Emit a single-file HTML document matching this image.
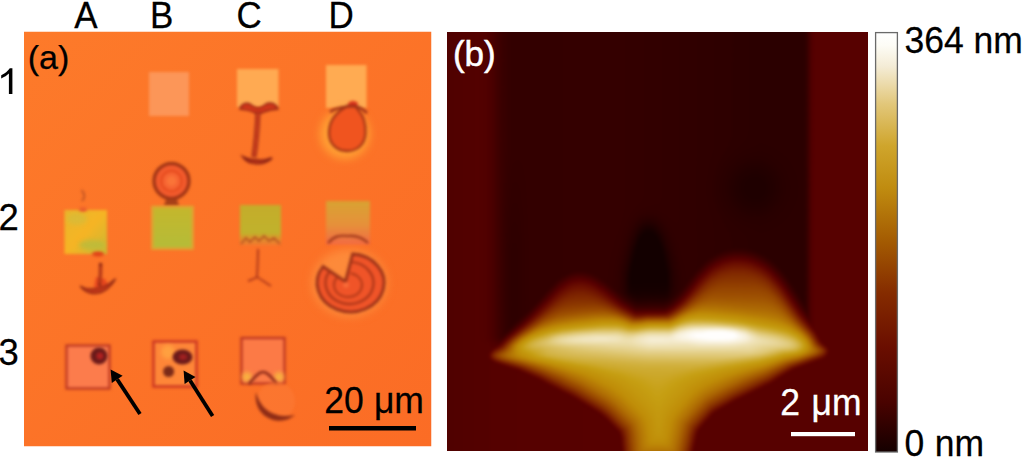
<!DOCTYPE html>
<html><head><meta charset="utf-8">
<style>
html,body{margin:0;padding:0;background:#fff;width:1024px;height:458px;overflow:hidden;}
svg{position:absolute;left:0;top:0;}
text{font-family:"Liberation Sans",sans-serif;}
</style></head>
<body>
<svg width="1024" height="458" viewBox="0 0 1024 458">
<defs>
  <filter id="bb" color-interpolation-filters="sRGB" x="-5%" y="-5%" width="110%" height="110%"><feGaussianBlur stdDeviation="1.8"/></filter>
  <filter id="b15" color-interpolation-filters="sRGB" x="-50%" y="-50%" width="200%" height="200%"><feGaussianBlur stdDeviation="1.8"/></filter>
  <filter id="b06" color-interpolation-filters="sRGB" x="-50%" y="-50%" width="200%" height="200%"><feGaussianBlur stdDeviation="0.6"/></filter>
  <filter id="b1" color-interpolation-filters="sRGB" x="-50%" y="-50%" width="200%" height="200%"><feGaussianBlur stdDeviation="1.2"/></filter>
  <filter id="b2" color-interpolation-filters="sRGB" x="-50%" y="-50%" width="200%" height="200%"><feGaussianBlur stdDeviation="2"/></filter>
  <filter id="b3" color-interpolation-filters="sRGB" x="-50%" y="-50%" width="200%" height="200%"><feGaussianBlur stdDeviation="3"/></filter>
  <filter id="b4" color-interpolation-filters="sRGB" x="-50%" y="-50%" width="200%" height="200%"><feGaussianBlur stdDeviation="4"/></filter>
  <filter id="b6" color-interpolation-filters="sRGB" x="-50%" y="-50%" width="200%" height="200%"><feGaussianBlur stdDeviation="6"/></filter>
  <filter id="b8" color-interpolation-filters="sRGB" x="-50%" y="-50%" width="200%" height="200%"><feGaussianBlur stdDeviation="8"/></filter>
  <filter id="b12" color-interpolation-filters="sRGB" x="-50%" y="-50%" width="200%" height="200%"><feGaussianBlur stdDeviation="12"/></filter>
  <filter id="b16" color-interpolation-filters="sRGB" x="-50%" y="-50%" width="200%" height="200%"><feGaussianBlur stdDeviation="16"/></filter>
  <clipPath id="ca"><rect x="24" y="31.5" width="407.5" height="415"/></clipPath>
  <clipPath id="cb"><rect x="447" y="32" width="421" height="419"/></clipPath>
  <linearGradient id="cbar" x1="0" y1="0" x2="0" y2="1">
    <stop offset="0" stop-color="#ffffff"/>
    <stop offset="0.03" stop-color="#fdfcf6"/>
    <stop offset="0.08" stop-color="#f4ecd6"/>
    <stop offset="0.17" stop-color="#e2c77a"/>
    <stop offset="0.27" stop-color="#cfa52c"/>
    <stop offset="0.37" stop-color="#c08c10"/>
    <stop offset="0.50" stop-color="#a35a02"/>
    <stop offset="0.62" stop-color="#852c00"/>
    <stop offset="0.75" stop-color="#6a0e00"/>
    <stop offset="0.88" stop-color="#4a0300"/>
    <stop offset="1" stop-color="#150000"/>
  </linearGradient>
  <linearGradient id="lobeL" x1="0" y1="0" x2="0" y2="1">
    <stop offset="0" stop-color="#6a1800" stop-opacity="0"/>
    <stop offset="0.35" stop-color="#8a3a00"/>
    <stop offset="1" stop-color="#c89020"/>
  </linearGradient>
  <linearGradient id="lobeR" x1="0" y1="0" x2="0" y2="1">
    <stop offset="0" stop-color="#7a2800" stop-opacity="0"/>
    <stop offset="0.3" stop-color="#9a4a00"/>
    <stop offset="1" stop-color="#d0a028"/>
  </linearGradient>
  <linearGradient id="stem" x1="0" y1="0" x2="1" y2="0">
    <stop offset="0" stop-color="#9a5000"/>
    <stop offset="0.5" stop-color="#c89a10"/>
    <stop offset="1" stop-color="#9a5000"/>
  </linearGradient>
</defs>
<defs>
  <linearGradient id="orng" x1="24" y1="32" x2="431" y2="447" gradientUnits="userSpaceOnUse">
    <stop offset="0" stop-color="#fd7a2a"/>
    <stop offset="1" stop-color="#fb6c25"/>
  </linearGradient>
  <linearGradient id="gD2" x1="0" y1="0" x2="0" y2="1">
    <stop offset="0" stop-color="#d8a232"/>
    <stop offset="0.55" stop-color="#e6903a"/>
    <stop offset="1" stop-color="#f26a44"/>
  </linearGradient>
  <linearGradient id="gC2" x1="0" y1="0" x2="0" y2="1">
    <stop offset="0" stop-color="#c4ac2a"/>
    <stop offset="0.7" stop-color="#c0b22c"/>
    <stop offset="0.85" stop-color="#e0902c"/>
    <stop offset="1" stop-color="#f07a30"/>
  </linearGradient>
  <linearGradient id="gA2" x1="0" y1="0" x2="1" y2="1">
    <stop offset="0" stop-color="#e8b62c"/>
    <stop offset="0.5" stop-color="#f6b424"/>
    <stop offset="1" stop-color="#c8b834"/>
  </linearGradient>
  <linearGradient id="gB2" x1="0" y1="0" x2="0" y2="1">
    <stop offset="0" stop-color="#c4b62c"/>
    <stop offset="1" stop-color="#b4bc38"/>
  </linearGradient>
</defs>
<g clip-path="url(#ca)">
  <rect x="24" y="31.5" width="407.5" height="415" fill="url(#orng)"/>
  <g filter="url(#b15)">
  <!-- B1 square -->
  <rect x="149" y="72" width="40" height="44" fill="#fc9658"/>
  <!-- C1 square -->
  <rect x="237" y="69" width="41.5" height="38" fill="#ffaa52"/>
  <!-- D1 square -->
  <rect x="326" y="65" width="40.5" height="43" fill="#ffab52"/>
  </g>
  <!-- C1 T shape -->
  <g filter="url(#b15)">
    <path d="M240,109 C241,104 246,102 250,104 C253,106 255,108 258,108 C261,108 263,106 266,104 C270,102 276,103 278,109 C272,110 267,110 262,113 L255,113 C250,110 245,110 240,109 Z" fill="#d0361a" stroke="#8e2414" stroke-width="1.4"/>
    <path d="M258,112 C257.5,125 256.5,140 254,157" stroke="#962818" stroke-width="5" fill="none"/>
    <path d="M258,113 C257.5,125 256.5,140 254.3,156" stroke="#e4481e" stroke-width="1.8" fill="none"/>
    <path d="M243,157 C248,165 264,166 272,158 C267,160 262,161 257,160 C251,160 247,159 243,157 Z" fill="#d0381a" stroke="#8e2414" stroke-width="2"/>
  </g>
  <!-- D1 pear -->
  <circle cx="345" cy="134" r="25" fill="#ffa034" filter="url(#b4)"/>
  <g filter="url(#b15)">
    <path d="M344,108 C349,104 356,104 358,110 C362,114 366,122 365.5,133 C365,145 357,151 347,151 C337,151 329,144 329,133 C329,121 336,113 344,108 Z" fill="#f0541f" stroke="#a43416" stroke-width="2.3"/>
    <ellipse cx="353" cy="104" rx="5" ry="3" fill="#d8301a"/>
    <path d="M330,112 C336,107 345,107 352,106 C358,106 363,109 367,113" stroke="#9a3018" stroke-width="2.6" fill="none"/>
  </g>
  <!-- B circle -->
  <g filter="url(#b15)">
    <circle cx="171.5" cy="181" r="17.5" fill="#f25a2c" stroke="#983014" stroke-width="3"/>
    <circle cx="171.5" cy="181" r="10" fill="#f66432" stroke="#e04418" stroke-width="1.5"/>
    <circle cx="171.5" cy="181" r="5" fill="#fa7438"/>
    <path d="M166,199 L177,199 L179,206 L164,206 Z" fill="#a84018"/>
  </g>
  <!-- Row 2 squares -->
  <g filter="url(#b15)">
    <rect x="64.5" y="210" width="42.5" height="44" fill="url(#gA2)"/>
    <rect x="152.5" y="207" width="40" height="41.5" fill="url(#gB2)" stroke="#dca832" stroke-width="2.5"/>
    <rect x="240" y="205" width="41" height="40" fill="url(#gC2)"/>
    <rect x="326" y="201" width="44" height="43.5" fill="url(#gD2)"/>
  </g>
  <g filter="url(#b2)">
    <ellipse cx="92" cy="245" rx="13" ry="5" fill="#b8bc3c" opacity="0.8"/>
    <ellipse cx="77" cy="219" rx="10" ry="6" fill="#d4bc3a" opacity="0.7"/>
  </g>
  <!-- A2 hook and sail -->
  <g filter="url(#b15)">
    <path d="M81.5,190 C85,194 85,198 82,201" stroke="#b04a22" stroke-width="1.4" fill="none"/>
    <ellipse cx="98" cy="254" rx="6" ry="2.5" fill="#e04018"/>
    <ellipse cx="83" cy="209.5" rx="4" ry="2" fill="#e8582c"/>
    <path d="M96,277 L105,279 L108,284 L100,291 L94,287 Z" fill="#e8481e"/>
    <path d="M80.2,286 C88,296 104,298 115.6,278.8 C108,286 100,289 92,289 C87,289 83,288 80.2,286 Z" fill="#c83a1a" stroke="#8a2412" stroke-width="1.4"/>
    <path d="M100.6,263 C100.8,270 100.5,277 99.5,286" stroke="#8a2412" stroke-width="3.2" fill="none"/>
    <path d="M100.6,266 C100.8,272 100.5,278 99.8,284" stroke="#e04a1e" stroke-width="1.2" fill="none"/>
  </g>
  <!-- C2 jagged + three-prong -->
  <g filter="url(#b15)">
    <path d="M241,244 L246,238 L250,242 L255,237 L259,241 L264,236 L269,241 L274,238 L280,244" stroke="#a83c1c" stroke-width="1.6" fill="none" opacity="0.8"/>
    <path d="M258,249 C258,258 257.5,268 257,277 M257,277 C254,279 251,280 248,281 M257,277 C262,280 266,283 271,286" stroke="#b0381a" stroke-width="2" fill="none"/>
  </g>
  <!-- D2 bottom curve -->
  <g filter="url(#b15)">
    <path d="M328,243 C333,237 338,235 348,236 C356,235 362,237 368,243" stroke="#9a3418" stroke-width="2.2" fill="none"/>
  </g>
  <!-- D2 spiral -->
  <ellipse cx="349.5" cy="283" rx="38" ry="34" fill="#fd8a3a" filter="url(#b4)"/>
  <g filter="url(#b15)">
    <path d="M345.5,281.7 L323,266.5 A33.5,29 0 1,0 352.6,254 Z" fill="#f05428" stroke="#983018" stroke-width="2.8"/>
    <path d="M329.8,271 A24,21 0 1,0 350.3,262" stroke="#a83418" stroke-width="2.2" fill="none"/>
    <path d="M337.3,277.3 A14,12 0 1,0 350.4,273.2" stroke="#b03818" stroke-width="2" fill="none"/>
    <circle cx="346" cy="285" r="3" fill="#f86a38"/>
  </g>
  <!-- Row 3 -->
  <g filter="url(#b15)">
    <rect x="66.5" y="345.5" width="43" height="43" fill="#fc7c4c" stroke="#b83422" stroke-width="2.2"/>
    <rect x="153.5" y="341.5" width="43" height="45" fill="#fe8638" stroke="#c83422" stroke-width="2.4"/>
    <rect x="241.5" y="338" width="43" height="45.5" fill="#fc7a46" stroke="#b83422" stroke-width="2.2"/>
  </g>
  <g filter="url(#b2)">
    <ellipse cx="247" cy="377" rx="5" ry="5" fill="#f8b040"/>
    <ellipse cx="279" cy="377" rx="5" ry="5" fill="#f8b040"/>
    <circle cx="168" cy="352" r="7" fill="#ffa040"/>
  </g>
  <g filter="url(#b15)">
    <circle cx="99" cy="356" r="8.5" fill="#6a1a1a"/>
    <circle cx="100" cy="356" r="3.5" fill="#b02020"/>
    <ellipse cx="182.5" cy="357" rx="10" ry="7.5" fill="#6a1a1a"/>
    <ellipse cx="183" cy="357" rx="4" ry="3" fill="#a02020"/>
    <circle cx="168.6" cy="371.5" r="5.5" fill="#7a2a18"/>
    <path d="M249,384 C254,378 258,372 263,372 C268,372 272,378 277,384" stroke="#8a2818" stroke-width="2.5" fill="none"/>
    <circle cx="276" cy="401" r="19" fill="#fc7a36" opacity="0.6"/>
    <path d="M256,392 C254,405 261,418 276,420.5 C284,421.5 290,419 295,415 C288,416.5 282,416.5 276,414.5 C266,411.5 259,404 256,392 Z" fill="#8e2c16"/>
  </g>
  <!-- arrows -->
  <g fill="#000" stroke="none">
    <path d="M140,414 L117.2,379.4" stroke="#000" stroke-width="3.8"/>
    <path d="M110.6,369.4 L122.6,375.8 L111.8,383.0 Z"/>
    <path d="M212.6,416 L190.05,380.6" stroke="#000" stroke-width="3.8"/>
    <path d="M183.6,370.5 L195.5,377.1 L184.6,384.1 Z"/>
  </g>
</g>
<g clip-path="url(#cb)"><g filter="url(#bb)">
<rect x="439" y="24" width="437" height="435" fill="#130000"/>
<path fill="#140000" fill-rule="evenodd" d="M441.2 26.2 441.2 456.8 873.8 456.8 873.8 26.2ZM647.2 232.2 650.2 232.2 652.2 233.2 656.2 237.8 659.2 243.8 661.8 251.2 666.2 273.2 666.2 281.8 665.2 282.8 644.2 282.8 640.8 283.8 631.8 283.8 630.8 277.2 632.8 264.8 636.8 248.8 641.2 237.8 645.2 233.2Z"/>
<path fill="#160000" fill-rule="evenodd" d="M441.2 26.2 441.2 456.8 873.8 456.8 873.8 26.2ZM647.8 231.2 650.8 231.8 654.8 234.8 657.8 239.2 660.8 246.2 663.8 256.8 666.8 272.8 667.2 281.8 666.8 286.2 665.8 287.2 641.8 287.8 636.8 288.8 634.2 288.2 630.8 285.8 630.2 277.2 631.2 269.8 636.2 248.8 639.2 240.2 641.8 235.8 645.2 232.2Z"/>
<path fill="#170000" fill-rule="evenodd" d="M441.2 26.2 441.2 456.8 873.8 456.8 873.8 26.2ZM646.8 230.8 651.8 231.2 655.8 234.8 661.8 247.8 665.8 263.8 667.8 277.8 667.8 283.2 666.2 289.8 644.8 290.2 636.8 291.2 634.2 290.8 630.2 287.8 630.2 273.2 636.2 246.8 640.8 236.2 644.8 231.8Z"/>
<path fill="#190000" fill-rule="evenodd" d="M441.2 26.2 441.2 456.8 873.8 456.8 873.8 26.2ZM647.2 229.8 650.2 229.8 653.2 231.2 655.8 233.8 659.8 240.8 662.8 249.2 667.8 272.8 667.8 287.8 666.2 291.8 635.2 292.8 630.8 290.2 629.8 288.2 629.2 277.8 630.2 270.2 636.2 245.2 641.2 234.2 644.8 230.8Z"/>
<path fill="#1a0000" fill-rule="evenodd" d="M441.2 26.2 441.2 456.8 873.8 456.8 873.8 26.2ZM645.8 229.2 651.2 229.2 655.8 232.8 658.8 237.2 662.8 247.2 665.8 258.8 668.8 277.2 668.2 287.2 666.2 293.2 635.8 294.2 631.8 292.2 629.8 290.2 628.8 283.2 629.2 273.2 632.2 258.2 633.2 256.2 633.2 253.8 637.2 240.8 640.2 234.8Z"/>
<path fill="#1c0000" fill-rule="evenodd" d="M441.2 26.2 441.2 456.8 873.8 456.8 873.8 26.2ZM646.2 228.2 650.8 228.2 655.8 231.8 660.8 240.2 663.8 248.8 667.8 265.8 669.2 278.2 668.8 288.2 667.2 293.2 665.2 294.8 646.8 294.8 636.8 295.8 632.2 293.8 629.2 290.8 628.2 278.2 629.2 270.2 633.2 251.8 639.2 235.2 641.2 232.2Z"/>
<path fill="#1d0000" fill-rule="evenodd" d="M441.2 26.2 441.2 456.8 873.8 456.8 873.8 26.2ZM646.8 227.2 651.8 227.8 656.8 231.8 660.8 238.8 665.8 253.8 669.2 272.2 669.8 285.2 667.8 293.8 665.2 295.8 649.2 295.8 636.8 296.8 633.2 295.2 629.2 292.2 627.8 283.2 628.2 273.2 632.2 253.8 638.2 235.8 640.8 231.8 643.8 228.8Z"/>
<path fill="#1f0000" fill-rule="evenodd" d="M441.2 26.2 441.2 456.8 873.8 456.8 873.8 26.2ZM647.8 226.2 649.8 226.2 654.2 228.2 658.8 233.8 662.8 242.2 666.8 255.8 669.8 271.2 670.2 284.8 668.2 294.2 667.2 295.8 665.2 296.8 647.2 296.8 637.2 297.8 629.8 293.8 628.2 291.2 627.2 284.8 627.8 273.8 631.2 255.8 634.2 244.8 639.2 232.8 643.2 228.2Z"/>
<path fill="#200000" fill-rule="evenodd" d="M441.2 26.2 441.2 456.8 873.8 456.8 873.8 26.2ZM646.8 225.8 650.8 225.8 653.2 226.8 658.2 231.8 660.8 235.8 663.8 243.2 666.8 253.2 670.8 274.8 670.8 286.2 668.2 295.8 664.2 297.8 636.8 298.2 634.8 297.8 630.2 294.8 628.2 292.8 627.2 288.8 627.2 273.2 630.2 257.8 634.2 242.8 637.2 235.2 640.2 230.2 642.8 227.8ZM754.2 177.2 756.8 177.2 761.2 179.2 763.8 182.8 764.8 185.8 764.8 190.8 762.8 195.2 760.2 197.8 757.8 198.8 753.2 198.8 749.8 197.2 746.2 193.8 744.8 189.8 744.8 186.8 746.8 181.8 750.2 178.8Z"/>
<path fill="#220000" fill-rule="evenodd" d="M441.2 26.2 441.2 456.8 873.8 456.8 873.8 26.2ZM645.2 225.2 652.2 225.2 657.8 229.8 662.8 238.8 666.8 250.8 670.8 269.8 671.2 286.8 668.8 296.2 664.8 298.2 637.8 299.2 632.8 297.2 627.8 293.2 626.2 285.2 626.2 277.2 629.2 259.8 632.2 247.8 637.2 233.8 640.2 229.2ZM751.2 173.2 756.8 172.8 760.8 173.8 765.8 178.2 768.8 184.8 768.8 191.2 767.8 194.2 764.8 199.2 760.2 202.8 752.8 203.2 748.2 201.8 743.2 197.2 740.2 191.2 740.2 185.2 742.2 180.2 745.8 176.2Z"/>
<path fill="#230000" fill-rule="evenodd" d="M441.2 26.2 441.2 456.8 873.8 456.8 873.8 26.2ZM645.8 224.2 651.8 224.2 657.8 228.8 662.8 237.2 667.8 252.2 671.8 272.8 672.2 281.8 671.8 288.2 669.8 295.8 665.8 298.8 636.8 299.8 629.8 295.8 627.2 293.2 625.8 284.8 625.8 277.8 627.2 266.8 631.2 249.2 635.2 236.8 638.2 230.8 642.2 226.2ZM752.8 169.2 758.2 169.2 763.2 171.2 768.8 176.8 771.8 183.2 772.2 190.2 771.8 193.2 769.2 198.8 764.2 204.2 759.8 206.8 751.8 206.8 744.8 203.8 739.2 197.8 736.8 190.8 737.2 182.8 739.8 177.8 743.8 173.2 746.8 171.2Z"/>
<path fill="#250000" fill-rule="evenodd" d="M441.2 26.2 441.2 456.8 873.8 456.8 873.8 26.2ZM645.8 223.2 651.2 223.2 653.8 224.2 658.8 228.8 663.8 237.8 669.8 257.8 672.8 275.8 672.8 285.8 670.2 296.2 667.2 298.8 664.2 299.8 636.8 300.2 630.2 296.8 627.2 294.2 626.2 292.2 625.2 286.2 625.2 276.2 630.2 250.8 634.2 237.8 637.2 231.2 642.2 225.2ZM751.8 166.2 760.2 166.2 765.8 169.2 770.8 174.2 774.8 182.2 775.2 191.2 772.2 199.8 767.2 205.8 760.8 209.8 750.8 209.8 743.8 206.8 737.2 200.2 734.2 193.8 733.8 185.8 736.2 177.8 742.8 170.2 748.2 167.2Z"/>
<path fill="#260000" fill-rule="evenodd" d="M441.2 26.2 441.2 456.8 873.8 456.8 873.8 26.2ZM646.2 222.2 651.2 222.2 653.8 223.2 659.8 228.8 662.8 233.8 665.8 241.2 669.8 254.8 673.2 274.2 673.2 286.8 670.8 296.2 668.2 298.8 664.2 300.2 636.2 300.8 628.2 295.8 626.2 293.8 625.2 290.2 625.2 271.8 632.2 241.8 637.2 229.8 642.2 224.2ZM751.8 163.2 760.8 163.2 765.2 165.2 769.2 168.2 774.8 174.8 776.8 178.8 778.2 184.8 777.8 194.2 774.2 202.2 766.2 210.2 759.2 213.2 750.8 212.8 747.2 211.8 741.8 208.8 735.2 202.2 731.2 192.8 731.2 183.2 732.2 179.8 736.2 172.8 743.8 166.2Z"/>
<path fill="#280000" fill-rule="evenodd" d="M441.2 26.2 441.2 456.8 873.8 456.8 873.8 26.2ZM646.8 221.2 650.8 221.2 653.8 222.2 657.2 224.8 660.8 228.8 666.8 241.8 670.8 255.8 674.2 277.2 673.8 289.2 671.8 296.2 667.2 299.8 664.8 300.8 647.2 300.8 638.2 301.8 633.2 299.8 628.8 296.8 625.2 293.2 624.2 288.2 624.2 274.8 627.2 258.2 631.2 242.8 634.2 234.2 638.2 227.2 642.2 223.2ZM751.2 160.2 761.8 160.2 769.2 164.2 774.2 168.8 777.2 172.8 780.8 180.8 781.2 192.8 777.8 202.8 770.2 211.2 766.8 213.8 760.8 216.2 750.2 215.8 744.8 213.8 739.8 210.8 732.8 203.2 728.8 193.2 728.2 186.2 729.2 180.8 733.2 172.2 738.8 166.2 745.2 162.2Z"/>
<path fill="#290000" fill-rule="evenodd" d="M441.2 26.2 441.2 456.8 873.8 456.8 873.8 26.2ZM646.8 220.2 650.8 220.2 656.2 222.8 661.8 228.8 667.8 242.2 672.8 261.2 674.8 272.8 674.8 288.2 672.8 295.8 668.2 299.8 664.2 301.2 639.8 302.2 636.2 301.8 630.8 298.8 625.8 294.8 624.2 291.8 623.2 284.2 623.8 274.2 625.2 264.8 630.2 243.8 634.2 232.8 637.2 227.2 640.8 223.2ZM755.8 156.2 761.2 156.2 768.2 159.2 773.8 163.2 780.8 171.8 782.8 175.8 784.8 182.8 784.8 193.8 783.2 199.2 779.8 206.2 772.2 214.2 766.8 217.8 761.8 219.8 753.8 219.8 749.2 218.8 742.2 215.8 737.8 212.8 730.2 204.2 727.2 197.8 725.8 190.2 726.2 181.8 729.2 173.8 734.2 166.8 738.8 162.8 744.8 159.2Z"/>
<path fill="#2a0000" fill-rule="evenodd" d="M441.2 26.2 441.2 456.8 873.8 456.8 873.8 26.2ZM646.8 219.2 650.8 219.2 655.8 221.2 660.8 225.8 662.8 228.8 667.8 239.8 673.8 261.8 675.8 273.8 675.8 287.2 674.8 292.8 673.8 295.2 670.2 298.8 664.8 301.8 646.8 301.8 641.2 302.8 636.8 302.2 633.2 300.8 624.2 293.8 623.2 290.2 623.2 272.2 629.2 244.8 634.2 230.8 637.2 225.8 640.8 222.2ZM758.2 151.8 763.2 152.2 770.2 155.2 779.8 162.8 784.2 168.8 786.8 173.8 788.8 179.8 789.8 186.2 789.2 193.8 787.8 200.2 781.8 211.2 775.2 217.8 770.8 220.8 760.8 224.8 749.8 222.8 742.8 219.8 736.8 215.8 730.2 209.2 725.2 200.2 723.2 192.8 723.2 183.8 724.2 178.8 728.2 169.8 731.2 165.8 738.2 159.2 743.2 156.2 750.8 153.2Z"/>
<path fill="#2b0000" fill-rule="evenodd" d="M441.2 26.2 441.2 456.8 873.8 456.8 873.8 26.2ZM646.8 218.2 651.2 218.2 656.2 220.2 662.8 226.8 667.8 236.8 671.8 248.8 674.8 261.8 676.8 273.8 676.8 287.8 675.8 293.2 670.8 298.8 666.2 301.8 664.2 302.2 636.8 302.8 631.8 300.2 623.2 293.2 622.2 288.2 622.2 274.8 624.2 262.8 629.2 242.2 633.2 231.2 636.2 225.8 641.8 220.2ZM760.8 143.2 774.2 148.2 781.2 153.2 787.8 159.8 791.8 165.8 795.8 174.8 797.8 186.8 797.2 194.2 795.8 201.2 792.8 208.8 788.8 215.2 782.8 221.8 776.2 226.8 770.8 229.8 761.8 232.8 760.2 232.8 757.2 230.8 743.2 224.8 734.8 218.8 729.2 213.2 725.2 207.2 722.2 200.8 720.2 191.8 720.2 184.2 723.2 172.8 725.2 168.8 731.2 160.8 736.2 156.2 743.8 151.2 757.8 145.2Z"/>
<path fill="#2c0000" fill-rule="evenodd" d="M441.2 26.2 441.2 456.8 873.8 456.8 873.8 26.2 803.2 26.2 803.8 298.8 802.8 299.8 786.2 274.2 775.2 262.2 763.8 254.2 754.2 249.8 752.2 249.8 751.2 248.8 748.8 248.2 749.8 247.2 749.8 245.8 747.2 237.8 745.2 234.8 726.2 215.8 720.2 205.2 717.2 194.2 717.2 181.8 718.2 176.8 722.2 166.8 729.2 156.8 746.2 140.2 749.2 133.8 750.2 125.8 750.2 26.2ZM646.2 217.2 652.2 217.2 658.2 220.2 663.2 225.8 666.8 231.8 670.8 241.8 675.8 260.8 678.2 278.2 677.2 291.2 675.8 294.2 671.2 298.8 664.2 302.8 637.2 303.2 631.8 300.8 625.2 295.8 622.2 292.2 621.2 286.2 621.2 276.8 623.2 263.8 629.2 239.8 632.2 231.2 636.2 224.2 640.8 219.8Z"/>
<path fill="#2e0000" fill-rule="evenodd" d="M441.2 26.2 441.2 456.8 873.8 456.8 873.8 26.2 804.2 26.2 804.8 300.8 803.8 301.8 793.8 285.8 783.8 271.8 775.2 262.8 770.2 258.8 759.8 252.8 750.2 249.2 742.8 247.8 730.2 247.2 732.2 246.2 732.2 241.2 730.2 233.8 718.2 212.2 714.2 200.8 713.2 195.2 713.2 180.8 715.2 171.8 721.2 158.2 729.2 144.8 732.2 135.2 732.8 26.2ZM647.8 215.8 653.2 216.2 659.2 219.2 662.8 222.8 666.8 228.8 673.8 246.8 678.8 269.2 679.8 277.2 679.8 284.8 678.8 291.2 669.2 300.8 663.2 303.2 637.2 303.8 629.8 299.8 621.2 292.2 620.2 283.2 621.2 270.2 624.2 255.2 630.2 233.8 635.2 223.8 641.8 217.8Z"/>
<path fill="#2f0000" fill-rule="evenodd" d="M441.2 26.2 441.2 456.8 873.8 456.8 873.8 26.2 804.8 26.2 804.8 303.8 803.8 303.2 795.2 288.8 784.2 272.8 774.8 262.8 763.2 254.8 750.8 249.8 743.2 248.2 731.2 248.2 715.8 252.8 715.2 253.8 713.8 253.2 715.2 251.8 714.8 231.2 713.2 221.8 708.2 202.2 707.2 195.2 707.2 180.8 709.2 168.8 714.2 149.2 715.2 139.2 715.2 26.2ZM514.8 242.2 516.8 247.8 516.8 318.2 517.8 319.2 511.8 324.8 511.8 248.8 513.2 242.8ZM647.8 214.2 653.8 214.8 659.2 217.2 664.8 222.8 667.8 227.2 674.8 244.2 680.8 269.2 681.8 276.8 681.8 287.2 680.8 289.2 672.2 298.8 668.2 301.8 662.8 303.8 636.2 303.8 629.2 299.8 624.2 295.8 620.2 291.2 620.2 270.8 624.2 251.2 629.2 233.8 632.2 226.8 636.2 220.8 641.8 216.2Z"/>
<path fill="#300000" fill-rule="evenodd" d="M441.2 26.2 441.2 456.8 873.8 456.8 873.8 26.2 805.2 26.2 805.8 303.2 804.8 304.8 791.8 283.8 782.2 270.8 773.2 261.8 769.2 258.8 755.8 251.8 744.8 248.8 739.2 248.2 726.2 249.8 712.8 255.2 705.8 259.8 696.8 268.2 696.2 267.8 698.2 265.2 696.8 201.2 696.8 174.8 697.8 152.2 697.8 26.2ZM685.2 281.2 686.2 280.2 686.8 280.8 686.2 281.8ZM514.8 222.2 516.8 225.8 517.8 230.8 519.8 249.8 519.8 317.2 510.2 326.8 509.8 249.2 512.2 226.2 513.2 223.2ZM646.8 212.8 653.2 212.8 658.2 214.2 661.2 216.2 668.2 223.8 671.8 229.8 677.8 244.2 684.8 270.8 685.8 282.8 679.8 291.2 670.2 300.8 664.8 303.8 648.2 303.8 641.8 304.8 636.8 304.2 633.2 302.8 623.8 295.8 619.2 291.2 618.2 278.8 619.2 270.2 622.2 255.2 623.2 253.2 623.2 250.8 628.2 233.2 632.2 224.2 636.2 218.8 642.2 214.2Z"/>
<path fill="#310000" fill-rule="evenodd" d="M441.2 26.2 441.2 456.8 873.8 456.8 873.8 26.2 805.8 26.2 805.2 305.8 787.2 277.8 781.8 270.8 773.8 262.8 766.2 257.2 759.8 253.8 751.8 250.8 742.2 248.8 732.8 248.8 723.8 250.8 708.8 258.2 704.8 261.2 695.2 270.8 679.2 292.2 670.8 300.8 665.8 303.8 636.8 304.8 628.2 299.8 617.8 290.2 617.2 275.2 620.2 258.8 626.2 235.2 630.2 224.8 633.2 219.8 641.8 212.2 647.8 210.2 654.8 210.2 658.8 211.2 665.2 214.8 676.2 224.2 677.2 224.2 679.2 221.2 680.2 208.2 680.2 26.2ZM515.2 202.2 516.8 204.2 518.8 212.8 521.8 245.2 521.8 315.8 509.2 328.2 508.2 327.2 508.8 244.2 511.2 212.8 513.2 204.2Z"/>
<path fill="#320000" fill-rule="evenodd" d="M441.2 26.2 441.2 456.8 873.8 456.8 873.8 26.2 806.2 26.2 805.8 306.8 804.8 306.2 786.2 276.8 773.2 262.8 761.2 254.8 753.8 251.8 742.8 249.2 728.8 249.8 720.8 252.2 709.8 257.8 705.8 260.8 695.8 270.8 678.8 293.2 671.2 300.8 665.2 304.2 642.8 305.2 635.8 304.8 622.8 295.8 615.2 288.2 615.8 274.8 618.2 260.2 625.2 232.8 630.2 220.8 635.2 214.2 641.8 209.2 649.2 206.2 656.2 205.2 660.2 203.2 662.2 198.2 662.2 26.2ZM516.2 182.2 517.8 184.2 519.8 190.8 522.8 216.8 524.2 244.8 524.8 313.2 517.2 321.2 508.2 329.2 507.2 328.2 508.2 229.2 511.2 193.2 513.2 184.8 514.8 182.2Z"/>
<path fill="#330000" fill-rule="evenodd" d="M441.2 26.2 441.2 456.8 873.8 456.8 873.8 26.2 806.2 26.2 805.8 307.2 804.8 306.8 787.2 278.8 775.2 264.8 764.2 256.8 758.2 253.8 744.2 249.8 730.8 249.8 726.2 250.8 717.8 253.8 709.8 258.2 703.8 262.8 697.8 268.8 677.8 294.8 672.8 299.8 665.2 304.8 649.8 304.8 638.2 305.8 635.2 304.8 624.8 297.8 612.8 286.2 614.2 268.2 624.2 228.2 629.2 216.8 635.2 208.8 642.2 201.2 644.2 196.2 644.2 26.2ZM518.2 160.2 520.2 162.2 522.8 168.8 525.8 190.8 528.2 243.8 528.8 309.2 507.2 330.8 506.8 244.8 508.2 206.2 510.2 181.2 512.2 168.8 514.2 162.8 516.8 160.2Z"/>
<path fill="#340000" fill-rule="evenodd" d="M441.2 26.2 441.2 456.8 873.8 456.8 873.8 26.2 806.8 26.2 806.2 308.2 804.8 307.2 786.2 277.8 775.2 265.2 771.2 261.8 761.8 255.8 751.8 251.8 741.8 249.8 733.2 249.8 724.2 251.8 718.8 253.8 708.8 259.2 697.8 269.2 677.8 295.2 670.8 301.8 663.8 305.2 636.8 305.8 626.8 299.8 612.8 287.2 607.8 281.8 606.2 281.2 607.8 280.8 608.2 272.8 612.2 253.2 615.2 243.8 615.2 241.8 620.2 228.2 626.2 204.2 626.2 26.2 561.8 26.2 561.8 273.2 563.2 273.2 564.2 272.2 565.2 272.2 565.8 273.2 563.8 274.8 562.2 274.8 560.8 276.8 557.2 278.8 543.8 292.8 530.8 308.2 512.2 326.8 506.2 331.8 506.2 229.2 509.2 169.8 512.2 151.8 512.2 26.2ZM565.8 272.2 566.8 271.2 568.2 272.2ZM567.8 271.2 569.2 270.2 570.8 271.2Z"/>
<path fill="#350000" fill-rule="evenodd" d="M441.2 26.2 441.2 456.8 873.8 456.8 873.8 26.2 806.8 26.2 806.2 309.8 786.2 278.2 780.2 270.8 773.2 263.8 764.8 257.8 753.8 252.8 742.2 250.2 732.8 250.2 720.8 253.2 713.2 256.8 707.2 260.8 696.8 270.8 679.8 293.2 671.2 301.8 666.8 304.8 663.2 305.8 636.2 305.8 625.8 299.2 605.2 280.8 595.2 274.2 587.2 271.2 581.8 270.2 577.8 270.2 569.2 272.2 562.2 275.8 554.8 281.8 528.2 311.2 505.8 332.8 504.8 332.2 505.2 235.8 507.2 175.8 509.2 154.2 509.2 26.2Z"/>
<path fill="#360000" fill-rule="evenodd" d="M441.2 26.2 441.2 456.8 873.8 456.8 873.8 26.2 806.8 26.2 806.8 310.2 805.8 309.8 794.2 290.8 783.2 274.8 770.2 261.8 758.2 254.8 749.2 251.8 744.2 250.8 730.8 250.8 717.8 254.8 709.8 259.2 705.2 262.8 693.8 274.8 679.2 294.2 670.2 302.8 664.8 305.8 646.8 305.8 641.2 306.8 635.2 305.8 624.8 298.8 604.8 280.8 593.2 273.8 582.8 270.8 576.8 270.8 568.8 272.8 563.8 275.2 556.2 280.8 524.8 315.2 505.2 333.2 504.2 332.2 504.2 249.2 506.2 170.2 507.2 160.2 507.2 26.2Z"/>
<path fill="#370000" fill-rule="evenodd" d="M441.2 26.2 441.2 456.8 873.8 456.8 873.8 26.2 807.2 26.2 806.8 310.8 801.2 303.2 785.2 277.8 772.2 263.8 765.2 258.8 754.8 253.8 741.8 250.8 733.2 250.8 723.8 252.8 718.8 254.8 706.8 261.8 695.8 272.8 678.8 295.2 670.8 302.8 665.8 305.8 663.2 306.2 637.2 306.8 626.8 300.8 609.2 284.8 596.8 275.8 591.2 273.2 583.8 271.2 575.8 271.2 569.8 272.8 561.8 276.8 557.8 279.8 547.8 289.8 533.8 306.2 505.2 333.8 503.8 333.2 503.8 243.2 505.2 166.8 506.2 154.2 506.2 26.2Z"/>
<path fill="#380000" fill-rule="evenodd" d="M441.2 26.2 441.2 456.8 873.8 456.8 873.8 26.2 807.2 26.2 807.8 309.2 806.8 310.8 804.2 308.2 785.2 278.2 778.2 269.8 769.2 261.8 761.2 256.8 750.8 252.8 742.8 251.2 732.2 251.2 724.8 252.8 719.2 254.8 713.2 257.8 704.8 263.8 695.8 273.2 680.8 293.2 672.2 301.8 668.2 304.8 664.8 306.2 640.8 307.2 636.8 306.8 627.8 301.8 605.2 281.8 594.2 274.8 585.2 271.8 574.2 271.8 567.8 273.8 561.8 277.2 553.8 283.8 529.2 311.2 504.2 334.8 503.2 334.2 503.2 222.8 504.2 196.2 504.2 166.8 505.2 150.2 505.2 26.2Z"/>
<path fill="#390000" fill-rule="evenodd" d="M441.2 26.2 441.2 456.8 873.8 456.8 873.8 26.2 807.8 26.2 807.2 311.8 805.8 310.8 790.2 285.8 782.2 274.8 770.2 262.8 764.2 258.8 755.8 254.8 744.8 251.8 735.8 251.2 722.8 253.8 713.8 257.8 707.8 261.8 694.8 274.8 679.8 294.8 670.2 303.8 664.2 306.8 635.8 306.8 624.8 299.8 607.2 283.8 601.2 279.2 593.2 274.8 583.2 271.8 575.8 271.8 568.8 273.8 560.8 278.2 554.8 283.2 534.8 305.8 514.2 326.2 503.2 335.8 502.8 214.2 503.8 171.8 503.8 26.2Z"/>
<path fill="#3a0000" fill-rule="evenodd" d="M441.2 26.2 441.2 456.8 873.8 456.8 873.8 26.2 807.8 26.2 807.2 312.8 787.2 281.8 780.2 272.8 772.2 264.8 761.8 257.8 752.2 253.8 742.8 251.8 732.8 251.8 720.8 254.8 714.2 257.8 705.8 263.8 696.8 272.8 678.8 296.2 669.2 304.8 665.2 306.8 650.8 306.8 638.2 307.8 635.2 306.8 623.8 299.2 606.8 283.8 596.8 276.8 590.2 273.8 583.8 272.2 575.2 272.2 569.8 273.8 562.8 277.2 556.8 281.8 548.8 289.8 533.8 307.2 516.2 324.8 503.2 336.2 502.2 335.2 501.8 330.8 502.2 187.2 503.2 155.2 503.2 26.2Z"/>
<path fill="#3b0000" fill-rule="evenodd" d="M441.2 26.2 441.2 456.8 873.8 456.8 873.8 26.2 807.8 26.2 807.8 313.2 806.2 312.2 786.2 280.8 780.2 273.2 771.8 264.8 763.2 258.8 754.2 254.8 746.8 252.8 736.2 251.8 728.2 252.8 721.8 254.8 714.8 257.8 706.8 263.2 699.8 269.8 693.8 276.8 680.8 294.2 672.2 302.8 667.8 305.8 663.8 307.2 635.8 307.2 625.2 300.8 606.2 283.8 594.2 275.8 589.2 273.8 581.2 272.2 573.8 272.8 567.8 274.8 557.2 281.8 548.8 290.2 528.8 312.8 513.2 327.8 502.8 336.8 501.8 336.2 501.2 333.8 502.2 26.2Z"/>
<path fill="#3c0000" fill-rule="evenodd" d="M441.2 26.2 441.2 456.8 873.8 456.8 873.8 26.2 808.2 26.2 807.8 313.8 801.2 305.2 785.2 279.8 777.2 270.2 770.2 263.8 760.8 257.8 750.2 253.8 740.8 252.2 729.8 252.8 719.8 255.8 707.8 262.8 695.8 274.8 682.8 292.2 674.2 301.2 668.2 305.8 661.8 307.8 636.2 307.8 626.2 301.8 605.2 283.2 597.2 277.8 591.2 274.8 583.8 272.8 575.8 272.8 571.2 273.8 564.8 276.8 558.8 280.8 546.8 292.8 535.8 305.8 516.8 324.8 502.2 337.2 500.8 334.2 501.2 26.2Z"/>
<path fill="#3d0000" fill-rule="evenodd" d="M441.2 26.2 441.2 456.8 873.8 456.8 873.8 26.2 808.2 26.2 807.8 314.2 806.8 313.8 785.2 280.2 779.2 272.8 772.2 265.8 760.2 257.8 752.2 254.8 743.8 252.8 731.8 252.8 718.2 256.8 711.8 260.2 705.8 264.8 697.8 272.8 678.8 297.2 670.2 304.8 664.2 307.8 635.8 307.8 625.8 301.8 604.2 282.8 596.8 277.8 587.2 273.8 580.8 272.8 569.8 274.8 562.8 278.2 555.8 283.8 534.8 307.2 519.2 322.8 502.2 337.8 500.2 335.2 500.8 26.2Z"/>
<path fill="#3e0000" fill-rule="evenodd" d="M441.2 26.2 441.2 456.8 873.8 456.8 873.8 26.2 808.2 26.2 808.8 313.2 807.8 314.8 785.2 280.8 779.8 273.8 771.8 265.8 763.2 259.8 754.8 255.8 741.2 252.8 733.8 252.8 727.8 253.8 718.8 256.8 706.8 264.2 697.2 273.8 681.8 294.2 673.2 302.8 665.2 307.8 649.2 307.8 642.2 308.8 638.2 308.8 635.2 307.8 626.8 302.8 606.2 284.8 596.2 277.8 589.2 274.8 582.2 273.2 577.2 273.2 570.2 274.8 565.8 276.8 556.2 283.8 544.8 295.8 538.8 303.2 515.2 326.8 501.2 338.8 499.2 332.2 499.8 26.2Z"/>
<path fill="#3f0000" fill-rule="evenodd" d="M441.2 26.2 441.2 456.8 873.8 456.8 873.8 26.2 808.8 26.2 808.2 315.2 805.2 312.2 789.2 286.8 782.8 277.8 770.2 264.8 762.8 259.8 750.8 254.8 742.2 253.2 732.8 253.2 721.8 255.8 715.2 258.8 707.8 263.8 696.8 274.8 679.2 297.2 670.2 305.2 665.8 307.8 663.2 308.2 635.8 308.2 623.8 300.8 608.2 286.8 597.2 278.8 591.2 275.8 584.2 273.8 575.2 273.8 571.2 274.8 564.8 277.8 557.8 282.8 547.8 292.8 535.8 306.8 520.2 322.2 501.8 338.8 500.2 337.8 499.2 335.8 498.8 332.2 499.2 26.2Z"/>
<path fill="#400000" fill-rule="evenodd" d="M441.2 26.2 441.2 456.8 873.8 456.8 873.8 26.2 808.8 26.2 808.2 316.2 800.2 305.2 786.2 282.8 778.2 272.8 772.2 266.8 762.2 259.8 753.2 255.8 744.8 253.8 736.2 253.2 725.8 254.8 717.8 257.8 710.8 261.8 698.8 272.8 681.8 294.8 671.2 304.8 664.8 308.2 640.2 309.2 635.2 308.2 624.8 301.8 604.2 283.8 592.8 276.8 582.2 273.8 577.2 273.8 569.2 275.8 562.8 279.2 553.8 286.8 533.8 309.2 523.2 319.8 501.2 339.2 499.2 337.2 498.2 334.2 498.8 26.2Z"/>
<path fill="#410000" fill-rule="evenodd" d="M441.2 26.2 441.2 456.8 873.8 456.8 873.8 26.2 808.8 26.2 808.8 316.8 802.8 309.2 785.2 281.8 779.2 274.2 771.2 266.2 761.8 259.8 752.2 255.8 742.8 253.8 732.2 253.8 720.8 256.8 712.8 260.8 707.2 264.8 694.8 277.8 680.8 296.2 670.2 305.8 663.8 308.8 635.8 308.8 621.8 299.8 606.2 285.8 596.2 278.8 589.8 275.8 583.2 274.2 576.2 274.2 570.2 275.8 565.8 277.8 555.2 285.8 538.8 304.2 519.2 323.8 501.2 339.8 499.2 338.2 497.8 334.8 497.8 26.2Z"/>
<path fill="#420000" fill-rule="evenodd" d="M441.2 26.2 441.2 456.8 873.8 456.8 873.8 26.2 809.2 26.2 808.8 317.2 805.2 313.2 784.2 280.8 770.2 265.8 761.2 259.8 754.2 256.8 744.2 254.2 734.8 253.8 721.8 256.8 716.8 258.8 710.2 262.8 704.8 267.2 696.8 275.8 682.8 294.2 673.2 303.8 669.2 306.8 664.8 308.8 646.2 308.8 640.8 309.8 635.2 308.8 622.8 300.8 608.2 287.8 595.8 278.8 584.8 274.8 574.8 274.8 570.8 275.8 563.8 279.2 557.8 283.8 525.2 318.2 500.2 340.2 497.2 335.8 497.2 26.2Z"/>
<path fill="#440000" fill-rule="evenodd" d="M441.2 26.2 441.2 456.8 873.8 456.8 873.8 26.2 809.2 26.2 808.8 317.8 802.2 309.2 783.2 279.8 772.2 267.8 764.2 261.8 756.2 257.8 746.2 254.8 733.2 254.2 725.2 255.8 719.8 257.8 713.8 260.8 706.8 265.8 698.8 273.8 681.2 296.2 672.2 304.8 665.2 308.8 637.8 309.8 634.8 308.8 623.8 301.8 604.2 284.8 595.2 278.8 583.2 274.8 576.2 274.8 571.8 275.8 566.8 277.8 558.2 283.8 547.8 294.2 539.2 304.2 520.2 323.2 500.8 340.8 497.8 338.2 496.2 333.8 496.2 26.2Z"/>
<path fill="#450000" fill-rule="evenodd" d="M441.2 26.2 441.2 456.8 873.8 456.8 873.8 26.2 809.2 26.2 809.8 316.2 808.8 317.8 802.8 310.2 783.2 280.2 779.2 275.2 768.2 264.8 760.2 259.8 749.2 255.8 744.2 254.8 730.8 254.8 720.2 257.8 714.2 260.8 707.2 265.8 698.2 274.8 679.8 298.2 671.2 305.8 666.2 308.8 663.8 309.2 636.8 309.8 624.8 302.8 603.8 284.8 597.2 280.2 591.2 277.2 583.8 275.2 575.8 275.2 569.8 276.8 559.8 282.8 523.2 320.8 500.2 341.2 496.8 337.8 495.8 334.2 495.8 26.2Z"/>
<path fill="#460000" fill-rule="evenodd" d="M441.2 26.2 441.2 456.8 873.8 456.8 873.8 26.2 809.8 26.2 809.2 318.2 804.2 312.8 782.2 279.2 775.8 271.8 770.2 266.8 763.2 261.8 751.8 256.8 742.2 254.8 732.8 254.8 727.2 255.8 718.8 258.8 708.8 264.8 696.8 276.8 682.8 295.2 675.2 302.8 666.8 308.8 661.8 309.8 636.2 309.8 625.8 303.8 616.8 296.8 605.2 286.2 595.8 279.8 589.2 276.8 581.8 275.2 573.8 275.8 563.8 280.2 557.8 284.8 548.8 293.8 541.8 302.2 519.2 324.8 500.2 341.2 496.2 338.2 495.2 335.8 495.2 26.2Z"/>
<path fill="#470000" fill-rule="evenodd" d="M441.2 26.2 441.2 456.8 873.8 456.8 873.8 26.2 809.8 26.2 809.2 319.2 802.2 310.2 784.2 282.2 778.2 274.8 771.2 267.8 762.8 261.8 754.2 257.8 747.2 255.8 735.8 254.8 728.2 255.8 721.8 257.8 715.2 260.8 709.2 264.8 698.8 274.8 683.8 294.2 674.2 303.8 667.2 308.8 663.8 309.8 635.8 309.8 622.8 301.8 600.2 282.8 591.2 277.8 584.2 275.8 575.8 275.8 568.8 277.8 558.2 284.8 524.8 319.8 500.2 341.8 499.2 341.8 496.2 339.2 494.2 333.8 494.2 26.2Z"/>
<path fill="#480000" fill-rule="evenodd" d="M441.2 26.2 441.2 456.8 873.8 456.8 873.8 26.2 809.8 26.2 809.8 319.8 800.8 308.2 783.2 281.2 770.8 267.8 762.2 261.8 756.2 258.8 745.8 255.8 733.8 255.2 719.8 258.8 707.8 266.2 698.2 275.8 682.2 296.2 670.8 306.8 664.8 309.8 646.2 309.8 641.2 310.8 635.2 309.8 623.8 302.8 601.2 283.8 592.8 278.8 581.8 275.8 577.8 275.8 569.8 277.8 559.8 283.8 528.2 316.8 499.8 342.2 495.2 339.2 493.8 334.8 493.8 26.2Z"/>
<path fill="#4a0000" fill-rule="evenodd" d="M441.2 26.2 441.2 456.8 873.8 456.8 873.8 26.2 810.2 26.2 809.8 320.2 803.2 312.2 792.2 294.8 780.2 277.8 769.2 266.8 761.8 261.8 752.8 257.8 744.2 255.8 731.2 255.8 718.2 259.8 708.8 265.8 696.8 277.8 680.8 298.2 674.2 304.2 665.8 309.8 637.8 310.8 634.8 309.8 624.8 303.8 602.2 284.8 594.2 279.8 586.2 276.8 576.8 276.2 570.2 277.8 563.8 281.2 557.8 285.8 540.8 304.2 523.2 321.8 499.2 342.8 495.8 340.8 493.2 336.8 493.2 26.2Z"/>
<path fill="#4b0000" fill-rule="evenodd" d="M441.2 26.2 441.2 456.8 873.8 456.8 873.8 26.2 810.2 26.2 809.8 320.8 802.2 311.2 785.2 284.8 778.2 275.8 771.2 268.8 766.2 264.8 754.8 258.8 742.2 255.8 733.2 255.8 723.8 257.8 718.8 259.8 707.8 266.8 698.8 275.8 683.8 295.2 675.2 303.8 668.2 308.8 663.8 310.2 636.8 310.8 630.8 307.8 621.8 301.8 609.2 290.8 597.2 281.8 591.2 278.8 584.8 276.8 574.8 276.8 571.2 277.8 564.2 281.2 558.2 285.8 531.2 314.2 520.2 324.8 498.8 343.2 493.2 338.8 492.2 335.8 492.2 26.2Z"/>
<path fill="#4c0000" fill-rule="evenodd" d="M441.2 26.2 441.2 456.8 873.8 456.8 873.8 26.2 810.8 26.2 810.2 320.8 808.8 320.2 781.2 279.8 775.2 272.8 769.8 267.8 764.2 263.8 755.2 259.2 746.8 256.8 736.8 255.8 728.8 256.8 721.8 258.8 710.8 264.8 701.8 272.8 684.8 294.2 674.2 304.8 670.2 307.8 664.8 310.2 640.8 311.2 636.2 310.8 622.8 302.8 605.2 287.8 592.8 279.8 583.2 276.8 576.8 276.8 569.2 278.8 559.8 284.8 525.2 320.2 504.8 337.8 498.8 343.8 495.8 342.2 492.8 339.2 491.2 335.2 491.2 26.2Z"/>
<path fill="#4d0100" fill-rule="evenodd" d="M441.2 26.2 441.2 456.8 873.8 456.8 873.8 26.2 810.8 26.2 810.2 321.8 803.2 313.2 786.2 286.8 780.2 278.8 772.2 270.2 762.2 262.8 753.2 258.8 745.8 256.8 734.2 256.2 722.8 258.8 717.8 260.8 709.8 265.8 700.2 274.8 683.2 296.2 676.2 303.2 667.2 309.8 663.2 310.8 635.8 310.8 623.8 303.8 602.2 285.8 592.2 279.8 583.8 277.2 575.8 277.2 570.2 278.8 562.8 282.8 557.8 286.8 528.2 317.8 498.2 344.2 492.2 340.2 490.2 334.2 490.2 26.2Z"/>
<path fill="#4f0100" fill-rule="evenodd" d="M441.2 26.2 441.2 456.8 873.8 456.8 873.8 26.2 810.8 26.2 810.8 322.2 808.2 320.2 800.2 309.2 793.2 297.8 780.8 279.8 770.2 268.8 759.8 261.8 749.2 257.8 744.2 256.8 731.2 256.8 720.8 259.8 714.8 262.8 707.8 267.8 698.8 276.8 681.8 298.2 672.2 306.8 664.8 310.8 635.2 310.8 620.8 301.8 603.2 286.8 593.8 280.8 587.2 278.2 581.2 277.2 570.8 278.8 564.8 281.8 558.2 286.8 525.2 320.8 497.8 344.8 493.8 342.8 491.2 340.2 489.2 335.2 489.2 26.2Z"/>
<path fill="#500100" fill-rule="evenodd" d="M441.2 26.2 441.2 456.8 873.8 456.8 873.8 26.2 811.2 26.2 810.8 322.8 803.2 313.8 784.2 284.8 772.2 270.8 761.2 262.8 751.8 258.8 742.2 256.8 733.2 256.8 722.8 259.2 715.2 262.8 708.8 267.2 700.8 274.8 683.8 296.2 673.8 305.8 665.2 310.8 647.8 310.8 642.2 311.8 637.8 311.8 634.8 310.8 621.8 302.8 602.8 286.8 593.2 280.8 583.8 277.8 575.8 277.8 571.8 278.8 563.8 282.8 559.8 285.8 530.8 315.8 498.2 344.8 495.8 344.8 492.2 342.8 489.2 339.2 488.2 336.2 488.2 26.2Z"/>
<path fill="#510100" fill-rule="evenodd" d="M452.8 26.2 452.8 456.8 873.8 456.8 873.8 26.2 811.8 26.2 811.8 322.2 810.8 323.2 801.2 311.2 786.2 287.8 780.2 279.8 771.2 270.2 762.2 263.8 753.8 259.8 743.2 257.2 732.2 257.2 724.8 258.8 719.8 260.8 709.8 266.8 700.2 275.8 685.8 294.2 675.2 304.8 668.2 309.8 662.8 311.2 636.8 311.8 622.8 303.8 602.2 286.8 590.2 279.8 581.8 277.8 577.8 277.8 569.8 279.8 565.8 281.8 557.8 287.8 526.2 320.2 496.8 345.8 491.8 343.8 488.2 340.2 486.8 336.2 486.8 26.2Z"/>
<path fill="#520100" fill-rule="evenodd" d="M461.8 26.2 461.8 456.8 873.8 456.8 873.8 26.2 811.8 26.2 811.2 323.8 809.2 322.2 798.2 307.2 793.2 298.8 780.8 280.8 769.2 268.8 760.2 262.8 753.2 259.8 745.2 257.8 734.2 257.2 725.8 258.8 720.2 260.8 708.8 267.8 698.8 277.8 686.8 293.2 677.2 303.2 670.2 308.8 664.2 311.2 636.2 311.8 624.8 305.2 603.2 287.8 591.8 280.8 582.8 278.2 576.8 278.2 570.8 279.8 564.8 282.8 558.2 287.8 529.2 317.8 505.8 337.8 498.8 344.8 495.2 346.8 490.8 344.8 486.2 340.8 484.8 336.8 484.2 331.2 484.2 26.2Z"/>
<path fill="#530100" fill-rule="evenodd" d="M474.8 26.2 474.8 340.2 473.8 345.8 473.8 456.8 873.8 456.8 873.8 26.2 812.2 26.2 811.8 324.8 802.2 313.2 784.2 285.8 776.2 275.8 771.2 270.8 763.2 264.8 752.2 259.8 743.8 257.8 731.8 257.8 720.8 260.8 714.8 263.8 706.8 269.8 697.8 279.2 681.8 299.2 673.2 306.8 665.2 311.2 641.2 312.2 635.8 311.8 620.8 302.8 604.2 288.8 591.2 280.8 584.8 278.8 575.2 278.8 570.2 280.2 565.2 282.8 559.8 286.8 526.2 320.8 503.8 339.8 500.2 343.8 493.8 347.8 484.8 343.8 481.2 340.2 479.8 335.8 479.8 26.2Z"/>
<path fill="#550100" fill-rule="evenodd" d="M873.8 26.2 812.8 26.2 812.8 325.2 812.2 325.8 804.2 316.2 788.2 291.8 777.2 277.2 770.2 270.2 762.8 264.8 756.8 261.8 747.8 258.8 741.8 257.8 733.8 257.8 727.8 258.8 719.2 261.8 713.8 264.8 707.8 269.2 699.8 277.2 684.8 296.2 677.2 303.8 669.2 309.8 663.8 311.8 635.2 311.8 624.8 305.8 603.8 288.8 592.8 281.8 582.8 278.8 576.8 278.8 569.8 280.8 565.8 282.8 557.8 288.8 531.8 315.8 506.2 337.8 499.2 344.8 490.8 350.2 487.8 354.2 487.8 357.8 488.8 358.2 488.8 359.2 493.8 362.8 493.2 363.8 490.2 362.8 490.2 456.8 873.8 456.8ZM493.8 363.8 496.2 363.8 495.2 364.8Z"/>
<path fill="#560100" fill-rule="evenodd" d="M873.8 26.2 813.2 26.2 813.8 325.8 812.8 326.8 803.2 315.2 779.2 279.8 769.2 269.8 762.2 264.8 753.8 260.8 746.8 258.8 728.8 258.8 715.8 263.8 703.2 273.8 685.8 295.2 676.2 304.8 670.2 309.2 664.8 311.8 644.8 311.8 640.2 312.8 634.8 311.8 620.2 302.8 605.2 290.2 594.2 282.8 583.8 279.2 576.2 279.2 568.2 281.8 558.2 288.8 527.8 319.8 504.8 339.2 499.2 344.8 492.8 348.8 489.8 351.8 488.2 354.8 488.2 357.2 489.2 359.2 492.8 362.2 501.2 365.2 502.2 366.2 504.2 366.2 505.2 367.2 507.2 367.2 511.2 369.2 513.8 369.2 514.2 370.2 516.8 370.2 517.2 371.2 519.8 371.8 519.2 372.8 517.2 372.8 515.8 371.8 515.8 456.8 873.8 456.8ZM521.8 373.8 524.2 373.8 523.2 374.8ZM519.2 372.8 522.2 372.8 521.2 373.8Z"/>
<path fill="#570100" fill-rule="evenodd" d="M873.8 26.2 814.8 26.2 814.8 329.2 809.2 323.2 800.2 311.2 781.2 282.8 770.2 270.8 761.8 264.8 754.2 261.2 745.2 258.8 734.8 258.2 722.8 260.8 710.2 267.8 699.8 277.8 687.8 293.2 678.8 302.8 671.2 308.8 665.2 311.8 647.2 311.8 642.2 312.8 635.8 312.2 622.8 304.8 600.2 286.8 591.2 281.8 585.2 279.8 580.8 279.2 571.2 280.8 566.8 282.8 559.8 287.8 531.2 316.8 507.8 336.8 500.8 343.8 491.8 349.8 489.2 352.8 488.2 357.2 491.8 361.2 499.2 364.8 517.2 370.2 543.2 382.2 545.8 384.2 556.8 389.2 560.8 392.2 571.8 397.2 572.2 398.2 573.8 398.2 577.2 401.2 578.8 401.2 585.2 406.2 586.8 406.2 587.2 407.2 590.2 408.8 589.8 409.8 588.8 409.8 580.8 404.8 582.2 406.2 582.2 456.8 620.2 456.8 620.2 454.8 621.2 453.8 621.8 456.8 693.2 456.8 693.8 454.2 694.2 456.8 873.8 456.8ZM620.2 443.8 620.2 451.8 619.2 444.8ZM619.2 435.8 619.2 442.2 618.2 436.8ZM618.2 432.8 618.2 435.8 617.2 433.8ZM615.2 430.8 616.2 430.2 616.8 431.2 616.2 431.8ZM700.2 429.8 700.8 429.2 701.2 430.2 700.8 430.8ZM614.2 429.8 615.2 429.2 615.8 430.2 615.2 430.8ZM613.2 428.8 614.2 428.2 614.8 429.2 614.2 429.8ZM612.2 427.8 613.2 427.2 613.8 428.2 613.2 428.8ZM611.2 426.8 612.2 426.2 612.8 427.2 612.2 427.8ZM610.2 425.8 611.2 425.2 611.8 426.2 611.2 426.8ZM704.2 424.8 704.8 424.2 705.2 425.2 704.8 425.8ZM609.2 424.8 610.2 424.2 610.8 425.2 610.2 425.8ZM608.2 423.8 609.2 423.2 609.8 424.2 609.2 424.8ZM607.2 422.8 608.2 422.2 608.8 423.2 608.2 423.8ZM605.2 420.8 606.2 420.2 607.8 422.2 607.2 422.8ZM604.2 419.8 605.2 419.2 605.8 420.2 605.2 420.8ZM602.8 418.8 604.2 418.2 604.8 419.2 604.2 419.8ZM601.2 417.8 603.2 417.8 602.2 418.8ZM599.2 415.8 600.2 415.2 602.2 416.8 601.2 417.8ZM597.8 414.8 599.2 414.2 599.8 415.2 598.8 415.8ZM594.8 412.8 596.2 412.2 598.2 414.2 597.2 414.8ZM593.2 411.8 594.8 411.2 595.2 412.2 593.8 412.8ZM589.8 409.8 591.8 409.2 593.8 411.2 592.2 411.8ZM828.2 354.8 828.8 354.2 829.2 355.2 828.8 355.8ZM821.2 339.8 821.8 339.2 822.2 340.2 821.8 340.8ZM818.2 334.2 818.8 333.8 819.2 334.8 818.8 335.2ZM817.2 332.8 817.8 332.2 818.2 333.2 817.8 333.8ZM815.2 329.8 815.8 329.2 816.8 330.2 815.8 330.8Z"/>
<path fill="#580100" fill-rule="evenodd" d="M829.2 348.8 820.8 340.2 816.2 331.8 799.2 310.2 790.2 295.8 780.2 281.8 769.8 270.8 761.2 264.8 752.2 260.8 743.2 258.8 731.8 258.8 726.8 259.8 718.8 262.8 708.2 269.8 699.2 278.8 686.2 295.2 676.8 304.8 666.2 311.8 636.8 312.8 621.8 304.2 601.2 287.8 592.8 282.8 583.2 279.8 576.2 279.8 570.8 281.2 565.8 283.8 557.8 289.8 528.2 319.8 506.8 337.8 499.8 344.8 493.2 348.8 489.8 352.2 488.8 354.2 488.8 357.8 491.2 360.8 494.8 362.8 519.2 370.8 543.8 382.2 573.2 397.8 599.8 414.2 604.8 418.2 618.8 432.8 620.8 441.8 621.8 456.8 692.8 456.8 698.2 432.8 703.2 425.2 713.8 413.8 719.8 409.8 731.2 404.2 732.8 402.8 774.2 382.2 791.8 370.8 805.8 365.2 818.8 361.2 825.2 358.2 829.2 353.2Z"/>
<path fill="#590100" fill-rule="evenodd" d="M829.2 350.2 828.2 347.8 821.2 341.2 816.8 332.8 801.2 313.2 785.2 288.8 779.2 280.8 772.2 273.2 763.2 266.2 754.2 261.8 741.2 258.8 734.2 258.8 721.8 261.8 714.8 265.2 709.8 268.8 701.8 276.2 687.8 293.8 679.2 302.8 668.8 310.8 664.2 312.2 636.2 312.8 631.8 310.8 620.8 303.8 600.8 287.8 592.2 282.8 586.8 280.8 580.2 279.8 570.2 281.8 566.2 283.8 558.2 289.8 525.2 322.8 505.8 338.8 501.2 343.8 492.8 349.2 490.2 351.8 488.8 354.8 488.8 357.2 490.8 360.2 496.2 363.2 518.2 370.2 544.2 382.2 573.8 397.8 598.8 413.2 607.2 420.2 616.8 429.8 619.2 433.2 620.8 439.8 622.2 456.8 692.8 456.8 698.2 432.2 702.2 426.2 714.8 412.8 733.2 402.2 772.8 382.8 783.8 375.2 795.8 368.8 824.8 358.2 827.8 355.2Z"/>
<path fill="#5b0100" fill-rule="evenodd" d="M828.8 348.8 821.8 342.2 815.8 331.8 803.2 316.2 784.2 287.8 777.2 278.8 770.2 271.8 765.2 267.8 756.2 262.8 746.2 259.8 732.8 259.2 725.2 260.8 717.8 263.8 712.8 266.8 699.8 278.8 686.8 295.2 677.2 304.8 671.2 309.2 665.2 312.2 648.8 312.2 640.8 313.2 635.8 312.8 621.8 304.8 600.2 287.8 590.2 282.2 585.2 280.8 577.8 280.2 568.8 282.8 559.8 288.8 536.2 312.8 524.2 323.8 507.8 337.2 500.2 344.8 492.2 349.8 488.8 354.8 488.8 357.2 491.8 360.8 494.2 362.2 521.2 371.2 541.8 380.8 573.2 397.2 596.2 411.2 605.2 418.2 618.8 432.2 620.8 438.8 622.2 456.8 692.2 456.8 698.2 431.8 703.2 424.8 713.8 413.2 732.8 402.2 773.2 382.2 781.8 376.2 793.2 369.8 820.2 360.2 825.2 357.8 828.8 353.2Z"/>
<path fill="#5c0200" fill-rule="evenodd" d="M828.8 349.2 821.2 341.8 815.2 331.2 802.2 315.2 784.8 288.8 773.2 274.8 766.2 268.8 757.8 263.8 747.2 260.2 735.8 259.2 723.2 261.8 711.8 267.8 702.8 275.8 687.8 294.2 680.2 302.2 669.2 310.8 663.2 312.8 635.2 312.8 618.8 302.8 601.2 288.8 590.8 282.8 584.2 280.8 575.8 280.8 571.8 281.8 565.8 284.8 557.8 290.8 532.2 316.8 506.8 338.2 499.2 345.8 493.8 348.8 489.8 352.8 488.8 356.8 491.2 360.2 496.8 363.2 520.2 370.8 541.2 380.2 545.8 383.2 574.2 397.8 599.2 413.2 604.2 417.2 618.8 431.8 620.8 437.8 622.8 456.8 692.2 456.8 696.2 437.8 699.2 429.8 714.8 412.2 735.2 400.8 771.2 383.2 784.8 374.2 793.8 369.2 824.2 358.2 827.8 354.8 828.8 352.8Z"/>
<path fill="#5d0300" fill-rule="evenodd" d="M828.8 349.8 827.8 347.8 820.8 341.2 816.2 332.8 799.2 311.2 779.2 281.8 770.8 272.8 762.8 266.8 754.8 262.8 743.2 259.8 732.2 259.8 723.8 261.8 712.2 267.8 701.2 277.8 686.8 295.8 678.2 304.2 670.2 310.2 664.2 312.8 634.8 312.8 619.8 303.8 602.2 289.8 592.2 283.8 581.8 280.8 575.2 281.2 570.2 282.8 566.2 284.8 558.2 290.8 529.2 319.8 508.8 336.8 499.2 345.8 492.8 349.8 489.2 354.2 489.2 357.8 490.8 359.8 494.8 362.2 508.8 367.2 516.8 369.2 535.2 377.2 563.2 392.2 570.2 395.2 598.2 412.2 606.2 418.8 617.8 430.2 619.8 433.2 621.2 440.2 622.8 456.8 692.2 456.8 696.2 437.2 698.8 430.2 703.8 423.8 714.8 412.2 735.8 400.2 771.8 382.8 783.8 374.8 794.8 368.8 823.8 358.2 828.2 353.8Z"/>
<path fill="#5e0400" fill-rule="evenodd" d="M828.8 350.8 827.2 347.2 821.2 342.2 814.2 330.2 801.2 314.2 779.8 282.8 769.2 271.8 762.2 266.8 751.2 261.8 744.2 260.2 735.2 259.8 724.8 261.8 715.8 265.8 711.2 268.8 699.8 279.8 688.2 294.2 680.2 302.8 674.2 307.8 665.2 312.8 645.8 312.8 641.2 313.8 635.8 313.2 621.8 305.2 603.2 290.8 593.8 284.8 589.2 282.8 582.2 281.2 577.2 281.2 571.2 282.8 566.8 284.8 559.8 289.8 527.2 321.8 508.8 336.8 500.2 345.2 492.8 349.8 489.8 353.2 489.2 357.2 491.8 360.2 495.2 362.2 509.2 367.2 517.2 369.2 541.8 380.2 548.2 384.2 572.2 396.2 599.8 413.2 604.8 417.2 619.8 432.8 621.2 439.2 622.8 456.8 692.2 456.8 692.2 454.2 697.8 431.8 702.2 425.2 713.8 412.8 733.8 401.2 768.8 384.2 793.2 369.2 823.8 358.2 827.2 355.2Z"/>
<path fill="#5f0500" fill-rule="evenodd" d="M828.2 349.2 820.8 341.8 815.2 331.8 800.2 313.2 782.2 286.2 771.2 273.8 761.8 266.8 753.2 262.8 745.8 260.8 733.8 260.2 725.8 261.8 720.2 263.8 709.8 270.2 701.8 277.8 686.8 296.2 678.2 304.8 669.2 311.2 665.8 312.8 647.8 312.8 636.8 313.8 626.8 308.8 617.8 302.8 602.8 290.8 593.2 284.8 584.2 281.8 575.8 281.8 571.8 282.8 565.8 285.8 557.8 291.8 537.2 312.8 525.2 323.8 507.8 337.8 499.8 345.8 491.8 350.8 489.8 353.8 489.2 356.8 491.8 360.2 495.2 362.2 520.2 370.2 521.2 371.2 540.2 379.2 544.8 382.2 559.2 389.2 561.8 391.2 570.8 395.2 597.2 411.2 607.2 419.2 619.2 431.8 620.8 435.2 621.8 441.8 622.8 456.8 691.8 456.8 696.2 436.2 699.2 428.8 714.2 412.2 735.2 400.2 772.2 382.2 780.8 376.2 792.8 369.2 824.2 357.8 828.2 353.2Z"/>
<path fill="#610700" fill-rule="evenodd" d="M828.2 349.8 827.2 347.8 821.2 342.8 815.2 332.2 800.2 313.8 783.2 288.2 778.2 281.8 768.2 271.8 760.8 266.8 751.2 262.8 742.2 260.8 733.2 260.8 721.8 263.8 711.2 269.8 698.8 281.8 686.8 296.8 679.8 303.8 671.2 310.2 666.8 312.8 664.2 313.2 635.8 313.8 620.8 305.2 603.2 291.8 593.8 285.8 589.2 283.8 582.8 282.2 577.2 282.2 571.2 283.8 566.8 285.8 559.8 290.8 526.8 322.8 508.2 337.8 500.2 345.8 493.2 349.8 489.8 354.2 489.8 357.8 490.8 359.2 495.8 362.2 518.2 369.2 540.8 379.2 547.2 383.2 573.2 396.2 599.2 412.2 604.2 416.2 619.8 432.2 621.8 439.2 621.8 445.2 622.8 448.2 623.2 456.8 691.2 456.8 696.2 434.8 698.2 429.8 713.8 412.2 732.8 401.2 769.8 383.2 781.8 375.2 794.8 368.2 823.8 357.8 826.8 355.2 828.2 352.2Z"/>
<path fill="#630900" fill-rule="evenodd" d="M828.2 350.8 827.2 348.2 821.2 343.2 815.2 332.8 800.2 314.2 781.2 286.2 769.8 273.8 763.2 268.8 752.8 263.8 745.2 261.8 735.2 261.2 723.2 263.8 712.8 269.2 700.8 280.2 687.8 296.2 680.2 303.8 671.2 310.8 667.2 312.8 662.8 313.8 634.8 313.8 620.8 305.8 603.8 292.8 592.2 285.8 587.2 283.8 581.8 282.8 575.2 283.2 570.2 284.8 564.8 287.8 557.8 293.2 527.2 322.8 509.8 336.8 501.8 344.8 493.8 349.8 490.8 352.8 489.8 354.8 489.8 357.2 491.8 359.8 497.8 362.8 518.8 369.2 537.2 377.2 573.8 396.2 598.2 411.2 605.2 416.8 619.2 430.8 620.8 433.2 623.8 456.8 691.2 456.8 697.2 431.2 701.8 424.8 713.2 412.2 737.8 398.2 769.2 383.2 791.8 369.2 824.2 357.2 827.2 354.2Z"/>
<path fill="#650b00" fill-rule="evenodd" d="M827.8 349.8 826.2 347.2 820.2 342.2 814.2 331.8 801.2 316.2 782.2 288.2 770.2 274.8 762.2 268.8 753.8 264.8 747.2 262.8 735.8 261.8 724.8 263.8 712.8 269.8 700.8 280.8 690.8 293.2 681.8 302.8 672.2 310.2 665.2 313.8 645.2 313.8 637.2 314.8 630.2 311.8 621.8 306.8 604.2 293.8 590.8 285.8 583.8 283.8 576.2 283.8 572.2 284.8 567.8 286.8 559.8 292.2 524.2 325.8 507.8 338.8 499.8 346.8 492.8 350.8 490.2 354.2 490.2 357.2 492.8 360.2 508.8 366.2 516.8 368.2 537.8 377.2 559.2 388.2 561.8 390.2 570.8 394.2 600.2 412.2 605.2 416.2 619.8 430.8 621.8 435.8 623.8 456.8 690.8 456.8 696.2 432.8 701.2 424.8 712.8 412.2 735.2 399.2 772.2 381.2 780.8 375.2 791.2 369.2 823.8 357.2 827.2 353.8Z"/>
<path fill="#680d00" fill-rule="evenodd" d="M827.2 349.2 820.2 342.8 814.2 332.2 797.2 311.2 789.2 298.8 778.2 283.8 768.2 273.8 761.2 268.8 752.2 264.8 743.8 262.8 731.8 262.8 721.2 265.8 709.8 272.8 698.8 283.8 687.8 297.2 682.2 302.8 672.2 310.8 666.2 313.8 635.8 314.8 622.8 307.8 606.8 296.8 606.2 295.8 597.2 289.8 591.2 286.8 585.2 284.8 580.8 284.2 571.8 285.8 567.2 287.8 558.8 293.8 529.2 321.8 508.8 338.2 500.2 346.8 493.8 350.2 491.2 352.8 490.2 356.8 491.8 359.2 495.2 361.2 520.2 369.2 534.2 375.2 573.2 395.2 599.2 411.2 606.8 417.2 620.8 431.8 622.8 440.2 624.2 456.8 690.8 456.8 695.2 435.2 697.2 429.8 710.8 413.8 714.8 410.2 730.2 402.2 732.8 400.2 769.8 382.2 792.8 368.2 823.2 357.2 827.2 353.2Z"/>
<path fill="#6a0f00" fill-rule="evenodd" d="M827.2 349.8 819.2 341.8 814.2 332.8 798.2 313.2 781.2 288.2 768.8 274.8 761.8 269.8 750.2 264.8 741.8 263.2 733.8 263.2 722.8 265.8 711.8 271.8 699.8 283.2 683.8 301.8 673.2 310.2 665.2 314.2 646.8 314.2 640.2 315.2 635.2 314.8 619.8 306.2 594.2 288.8 583.2 285.2 576.8 285.2 570.8 286.8 559.8 293.8 533.2 318.8 510.8 336.8 501.8 345.8 494.8 349.8 491.2 353.2 490.8 357.2 492.2 359.2 495.8 361.2 518.2 368.2 539.2 377.2 547.8 382.2 573.8 395.2 599.8 411.2 607.2 417.2 620.8 431.2 622.8 438.2 624.2 456.8 690.2 456.8 696.2 431.2 702.2 422.8 705.2 420.2 711.8 412.2 715.8 409.2 737.8 397.2 769.2 382.2 779.8 375.2 792.2 368.2 817.8 359.2 824.2 356.2 827.2 352.2Z"/>
<path fill="#6c1000" fill-rule="evenodd" d="M827.2 350.2 826.2 348.2 819.2 342.2 813.2 331.8 797.2 312.2 782.2 290.2 776.2 282.8 769.2 275.8 762.2 270.8 754.2 266.8 741.2 263.8 734.2 263.8 721.8 266.8 712.8 271.8 700.8 282.8 683.2 302.8 672.2 311.2 667.8 313.8 663.2 314.8 635.8 315.2 619.8 306.8 598.2 291.8 590.2 287.8 581.2 285.8 573.2 286.8 564.8 290.8 555.8 297.8 538.2 314.8 508.8 338.8 502.2 345.8 493.8 350.8 491.8 352.8 490.8 356.8 492.8 359.2 496.2 361.2 518.8 368.2 539.8 377.2 559.2 387.2 561.8 389.2 570.8 393.2 600.2 411.2 605.2 415.2 620.8 430.8 622.8 436.2 624.8 456.8 690.2 456.8 691.2 449.8 696.2 430.2 700.2 424.8 713.8 410.2 735.2 398.2 772.2 380.2 777.8 376.2 793.8 367.2 822.2 357.2 826.2 353.8Z"/>
<path fill="#6e1200" fill-rule="evenodd" d="M826.8 349.8 824.2 346.8 820.2 343.8 813.2 332.2 801.2 318.2 778.2 285.8 768.2 275.8 761.2 270.8 752.2 266.8 743.8 264.8 731.8 264.8 726.8 265.8 718.8 268.8 709.8 274.8 704.2 279.8 692.8 293.2 680.2 305.8 671.2 312.2 665.8 314.8 645.2 314.8 641.2 315.8 636.8 315.8 620.8 307.8 598.8 292.8 590.8 288.8 582.8 286.8 577.2 286.8 572.8 287.8 566.2 290.8 557.8 296.8 534.2 318.8 512.8 335.8 501.2 346.8 494.2 350.8 491.8 353.2 490.8 355.8 491.8 358.2 496.8 361.2 522.2 369.2 538.2 376.2 558.2 386.2 560.8 388.2 573.2 394.2 600.8 411.2 605.8 415.2 621.8 431.8 623.8 441.2 624.8 456.8 689.8 456.8 695.2 431.8 700.2 424.2 712.8 410.8 732.8 399.2 769.8 381.2 783.8 372.2 793.2 367.2 819.2 358.2 823.2 356.2 826.2 353.2Z"/>
<path fill="#701400" fill-rule="evenodd" d="M826.2 349.2 818.8 342.2 814.8 334.8 798.2 314.8 781.2 290.2 768.8 276.8 761.8 271.8 753.2 267.8 745.8 265.8 734.2 265.2 725.8 266.8 714.8 271.8 708.8 276.2 699.8 285.2 686.2 300.8 676.8 308.8 666.8 314.8 649.8 314.8 643.2 315.8 635.2 315.8 620.2 307.8 599.2 293.8 591.2 289.8 583.8 287.8 576.8 287.8 572.2 288.8 565.8 291.8 558.8 296.8 532.2 320.8 506.8 341.2 501.8 346.8 494.8 350.8 491.8 353.8 491.2 356.8 492.8 358.8 495.2 360.2 520.2 368.2 541.2 377.2 545.8 380.2 570.2 392.2 599.2 409.8 606.2 415.2 621.8 431.2 623.8 438.8 625.2 456.8 689.2 456.8 694.2 434.2 696.2 429.2 700.2 423.8 712.8 410.2 733.8 398.2 769.2 381.2 792.8 367.2 822.8 356.2 826.2 352.8Z"/>
<path fill="#721700" fill-rule="evenodd" d="M826.2 349.8 819.2 343.2 813.8 333.8 798.2 315.2 782.2 292.2 770.2 278.8 762.2 272.8 751.2 267.8 743.2 266.2 732.2 266.2 724.8 267.8 712.8 273.8 700.8 284.8 693.8 293.2 682.2 304.8 669.8 313.8 665.2 315.2 646.2 315.2 640.2 316.2 634.8 315.8 621.2 308.8 601.2 295.8 593.8 291.8 584.2 288.8 576.2 288.8 572.2 289.8 565.8 292.8 559.8 296.8 535.2 318.8 509.8 338.8 502.2 346.8 493.8 351.8 491.8 354.2 491.8 357.2 495.8 360.2 506.8 364.2 518.2 367.2 541.8 377.2 563.8 389.2 572.8 393.2 601.8 411.2 606.8 415.2 621.8 430.8 623.8 436.8 625.8 456.8 689.2 456.8 690.2 449.8 695.2 430.2 700.2 423.2 712.2 410.2 733.2 398.2 772.2 379.2 777.8 375.2 792.2 367.2 822.2 356.2 825.8 353.2Z"/>
<path fill="#741900" fill-rule="evenodd" d="M826.2 350.8 825.2 348.8 818.2 342.2 814.2 334.8 798.2 315.8 778.2 287.8 768.2 277.8 761.2 272.8 751.8 268.8 741.8 266.8 733.8 266.8 727.8 267.8 719.2 270.8 709.8 276.8 683.2 304.2 670.2 313.8 666.2 315.2 642.2 316.2 633.8 315.8 617.2 306.8 600.2 295.8 591.8 291.8 584.2 289.8 575.8 289.8 570.8 291.2 560.8 296.8 527.2 325.8 510.2 338.8 501.2 347.8 494.8 351.2 492.2 353.8 491.8 356.8 494.2 359.2 501.2 362.2 520.2 367.8 538.2 375.2 575.2 394.2 598.2 408.2 607.2 415.2 621.8 429.8 623.8 434.8 625.8 456.8 688.8 456.8 694.2 431.8 696.2 427.8 711.8 410.2 730.8 399.2 769.8 380.2 782.2 372.2 793.8 366.2 795.2 366.2 821.8 356.2 825.8 352.8Z"/>
<path fill="#761c00" fill-rule="evenodd" d="M825.8 350.2 825.2 348.8 818.2 342.8 813.2 333.8 798.2 316.2 779.2 289.8 769.8 279.8 763.2 274.8 752.2 269.8 743.2 267.8 732.2 267.8 718.8 271.8 710.8 276.8 683.2 304.8 670.8 313.8 665.2 315.8 644.8 315.8 640.8 316.8 636.2 316.8 627.2 312.8 605.8 299.8 592.2 292.8 584.2 290.8 576.2 290.8 569.2 292.8 559.2 298.8 536.2 318.8 511.8 337.8 501.8 347.8 493.2 352.8 492.2 354.2 492.2 356.8 493.2 358.2 496.8 360.2 519.8 367.2 543.2 377.2 547.8 380.2 574.2 393.2 600.2 409.2 607.8 415.2 622.8 430.8 624.8 438.8 626.2 456.8 688.2 456.8 693.2 434.2 695.2 428.8 708.2 413.2 713.8 408.2 729.2 400.2 731.8 398.2 769.2 380.2 781.8 372.2 793.2 366.2 822.2 355.8 825.2 353.2Z"/>
<path fill="#781f00" fill-rule="evenodd" d="M825.2 349.8 818.2 343.2 813.2 334.2 800.2 319.2 780.2 291.8 771.2 281.8 760.2 273.8 753.2 270.8 744.2 268.8 731.8 268.8 723.2 270.8 711.8 276.8 705.8 281.8 684.8 303.8 677.2 309.8 666.8 315.8 647.2 315.8 642.8 316.8 635.2 316.8 624.8 311.8 599.2 296.8 592.2 293.8 584.2 291.8 576.8 291.8 569.2 293.8 561.8 297.8 553.8 303.8 534.2 320.8 510.8 338.8 502.2 347.8 494.8 351.8 492.8 353.8 492.2 356.2 493.8 358.2 497.2 360.2 520.2 367.2 541.8 376.2 574.8 393.2 602.2 410.2 607.2 414.2 622.8 430.2 624.8 436.8 626.8 456.8 688.2 456.8 689.2 449.8 694.2 429.8 699.2 422.8 713.2 408.2 734.8 396.2 772.2 378.2 777.8 374.2 792.8 366.2 820.8 356.2 824.8 353.2Z"/>
<path fill="#7b2100" fill-rule="evenodd" d="M825.2 349.8 817.8 342.8 815.2 337.8 810.2 330.8 798.2 317.2 777.2 288.8 769.2 280.8 762.2 275.8 750.2 270.8 744.8 269.8 730.8 269.8 720.2 272.8 710.2 278.8 685.2 303.8 676.2 310.8 667.8 315.8 645.2 316.2 639.2 317.2 634.2 316.8 595.2 295.8 582.8 292.8 578.2 292.8 569.8 294.8 561.8 298.8 549.8 307.8 537.2 318.8 511.2 338.8 501.2 348.8 495.2 351.8 492.8 354.2 492.8 356.8 494.8 358.8 500.2 361.2 518.2 366.2 540.2 375.2 560.2 385.2 564.8 388.2 573.8 392.2 602.8 410.2 608.2 414.8 621.8 428.2 623.8 431.2 625.8 442.2 626.8 456.8 687.8 456.8 692.2 435.2 694.8 428.2 707.8 412.8 712.8 408.2 732.2 397.2 769.8 379.2 789.8 367.2 822.2 355.2 824.8 352.8Z"/>
<path fill="#7d2400" fill-rule="evenodd" d="M824.8 349.8 817.8 343.2 812.2 333.8 796.2 315.2 778.2 290.8 768.2 280.8 760.8 275.8 750.2 271.8 744.8 270.8 730.8 270.8 719.8 273.8 711.2 278.8 705.2 283.8 686.2 303.2 672.2 313.8 666.2 316.2 647.2 316.2 635.2 317.2 619.8 309.8 604.2 300.8 592.2 295.8 585.2 294.2 576.2 294.2 569.8 295.8 563.2 298.8 555.8 303.8 530.2 324.8 512.8 337.8 502.2 348.2 495.8 351.8 493.2 354.2 492.8 356.2 493.8 357.8 498.2 360.2 521.8 367.2 543.2 376.2 576.2 393.2 599.2 407.2 608.2 414.2 622.8 428.8 624.8 432.8 625.8 438.2 627.2 456.8 687.2 456.8 692.2 433.8 694.2 428.2 710.8 409.2 735.2 395.2 770.8 378.2 789.2 367.2 821.8 355.2 824.2 353.2Z"/>
<path fill="#7f2700" fill-rule="evenodd" d="M824.8 350.8 824.2 349.2 818.2 344.2 811.2 332.8 794.2 313.2 780.2 293.8 770.2 283.2 762.8 277.8 753.8 273.8 744.2 271.8 731.8 271.8 719.8 274.8 711.8 279.2 707.2 282.8 686.2 303.8 681.2 307.8 670.8 314.8 664.2 316.8 643.8 316.8 636.2 317.8 632.8 316.8 608.8 303.8 595.8 297.8 588.2 295.8 582.8 295.2 574.2 295.8 567.2 297.8 556.8 303.8 533.2 322.8 511.8 338.8 503.2 347.8 494.8 352.8 493.2 354.8 493.2 356.2 494.8 358.2 498.8 360.2 522.2 367.2 541.8 375.2 575.2 392.2 601.2 408.2 608.2 413.8 623.8 429.8 625.8 436.2 627.8 456.8 686.8 456.8 692.2 432.2 694.2 427.8 707.2 412.2 712.8 407.2 728.2 399.2 730.8 397.2 770.2 378.2 777.8 373.2 790.8 366.2 821.2 355.2 823.8 353.2Z"/>
<path fill="#812900" fill-rule="evenodd" d="M824.2 349.8 817.2 343.2 811.2 333.2 798.2 318.8 781.2 295.8 775.2 288.8 768.8 282.8 761.2 277.8 753.8 274.8 742.8 272.8 732.8 272.8 722.8 274.8 713.8 278.8 704.8 285.8 693.2 297.8 684.2 305.8 672.2 314.2 666.2 316.8 645.8 316.8 641.8 317.8 634.8 317.8 601.2 300.8 594.2 298.2 587.2 296.8 575.8 296.8 567.8 298.8 561.2 301.8 553.8 306.8 508.8 341.8 502.2 348.8 495.8 352.2 493.8 354.2 493.8 356.8 495.2 358.2 502.2 361.2 520.2 366.2 540.2 374.2 574.2 391.2 601.2 407.8 608.2 413.2 624.2 429.8 625.8 433.8 628.2 456.8 686.2 456.8 691.2 434.8 694.2 426.8 710.8 408.2 731.8 396.2 771.2 377.2 778.8 372.2 790.2 366.2 820.8 355.2 824.2 352.2Z"/>
<path fill="#832c00" fill-rule="evenodd" d="M824.2 350.8 823.2 348.8 817.8 344.2 811.2 333.8 798.2 319.2 777.2 291.8 768.2 283.2 763.2 279.8 753.8 275.8 744.8 274.2 731.2 274.2 722.8 275.8 713.8 279.8 706.8 284.8 694.8 296.8 682.2 307.8 670.2 315.8 667.2 316.8 647.8 316.8 643.2 317.8 634.2 317.8 604.2 302.8 596.2 299.8 584.2 297.8 574.8 298.2 567.8 299.8 554.8 306.8 513.8 337.8 502.8 348.8 495.8 352.8 493.8 354.8 493.8 356.2 495.8 358.2 502.8 361.2 521.2 366.2 541.2 374.2 573.2 390.2 601.2 407.2 608.2 412.8 624.8 429.8 626.8 437.2 627.8 452.8 628.8 456.8 686.2 456.8 687.2 450.2 690.2 439.8 690.2 437.2 693.2 427.8 705.8 412.8 712.8 406.2 728.2 398.2 730.8 396.2 768.8 378.2 789.8 366.2 820.2 355.2 823.8 352.2Z"/>
<path fill="#852f00" fill-rule="evenodd" d="M823.8 350.8 823.2 349.2 818.2 345.2 810.2 332.8 796.2 317.2 778.2 293.8 767.8 283.8 759.2 278.8 753.2 276.8 747.2 275.8 728.8 275.8 717.8 278.8 709.2 283.8 685.2 305.8 676.2 312.2 668.2 316.8 645.8 317.2 635.2 318.2 605.2 303.8 596.8 300.8 587.2 299.2 572.8 299.8 565.8 301.8 553.8 308.2 512.8 338.8 503.2 348.8 494.8 353.8 494.2 356.2 496.2 358.2 500.8 360.2 521.8 366.2 544.2 375.2 575.8 391.2 601.2 406.8 608.2 412.2 625.2 429.8 626.8 434.8 628.8 456.8 685.8 456.8 690.2 435.8 693.2 426.8 710.8 407.2 731.8 395.2 769.8 377.2 789.2 366.2 817.2 356.2 821.2 354.2Z"/>
<path fill="#873200" fill-rule="evenodd" d="M823.2 349.8 817.2 344.2 810.8 333.8 798.2 320.2 780.2 296.8 769.2 285.8 763.2 281.8 755.8 278.8 742.8 276.8 733.2 276.8 720.8 278.8 713.8 281.8 705.2 287.8 683.2 307.8 671.2 315.8 666.8 317.2 647.8 317.2 641.8 318.2 634.2 318.2 606.2 304.8 592.2 300.8 574.8 300.8 565.8 302.8 557.2 306.8 546.8 313.8 510.8 340.8 503.8 348.8 495.2 353.8 494.8 356.2 496.8 358.2 501.2 360.2 525.2 367.2 542.8 374.2 576.8 391.2 602.8 407.2 612.2 415.2 625.8 429.8 627.8 438.8 629.2 456.8 685.2 456.8 689.2 440.2 689.2 437.8 692.2 427.8 696.2 422.2 710.8 406.8 732.8 394.2 767.2 378.2 778.8 371.2 790.8 365.2 819.2 355.2 822.2 353.2 823.2 351.8Z"/>
<path fill="#893400" fill-rule="evenodd" d="M823.2 350.8 822.2 348.8 817.2 344.8 811.2 334.8 796.2 318.2 781.2 298.8 769.2 286.8 764.8 283.8 755.2 279.8 749.2 278.8 726.8 278.8 718.2 280.8 709.8 285.2 686.2 305.8 673.2 314.8 667.8 317.2 643.8 317.8 639.8 318.8 635.2 318.8 631.8 317.8 607.2 305.8 597.8 302.8 591.8 301.8 577.8 301.8 569.8 302.8 563.2 304.8 555.2 308.8 544.8 315.8 514.8 337.8 507.8 344.2 505.2 347.8 495.8 353.8 495.2 356.2 497.2 358.2 501.8 360.2 523.2 366.2 545.8 375.2 575.8 390.2 604.8 408.2 611.8 414.2 625.8 428.8 627.8 435.8 629.8 456.8 684.8 456.8 690.2 431.8 692.2 426.8 703.2 413.8 710.8 406.2 730.2 395.2 760.8 380.2 766.2 378.2 790.2 365.2 816.2 356.2 821.8 353.2Z"/>
<path fill="#8b3700" fill-rule="evenodd" d="M822.8 350.8 822.2 349.2 816.2 343.8 809.2 332.8 793.2 315.2 782.2 300.8 769.2 287.8 762.8 283.8 753.2 280.8 727.8 280.2 719.2 281.8 709.8 286.2 684.2 307.8 673.8 314.8 666.8 317.8 645.8 317.8 641.8 318.8 634.2 318.8 608.2 306.8 598.8 303.8 591.8 302.8 581.2 302.8 566.2 304.8 554.8 309.8 513.8 338.8 503.2 349.8 495.8 354.2 495.8 356.8 499.8 359.2 521.2 365.2 542.2 373.2 576.8 390.2 604.2 407.2 609.2 411.2 624.8 426.8 626.8 429.8 628.8 439.8 630.2 456.8 684.2 456.8 689.2 434.2 691.8 426.8 704.2 411.8 711.2 405.2 729.2 395.2 771.2 375.2 787.2 366.2 817.8 355.2 821.2 353.2Z"/>
<path fill="#8d3a01" fill-rule="evenodd" d="M822.2 349.8 816.2 344.2 810.2 334.2 796.2 319.2 780.2 299.2 769.2 288.8 762.2 284.8 756.2 282.8 749.2 281.8 727.2 281.8 718.8 283.2 710.8 286.8 704.8 290.8 683.2 308.8 674.2 314.8 667.8 317.8 647.8 317.8 635.8 319.2 630.8 317.8 621.2 312.8 606.8 306.8 599.8 304.8 592.2 303.8 572.2 304.8 563.2 306.8 556.2 309.8 547.8 314.8 520.8 333.8 511.8 340.8 504.2 349.2 496.8 353.8 495.8 355.8 496.8 357.2 503.2 360.2 524.8 366.2 536.8 371.2 538.2 371.2 554.8 379.2 558.2 380.2 564.8 384.2 575.8 389.2 602.2 405.2 609.2 410.8 626.8 428.8 628.8 436.2 630.8 456.8 683.8 456.8 689.2 432.2 691.2 426.8 695.8 420.8 709.2 406.2 728.2 395.2 758.8 380.2 762.2 379.2 788.8 365.2 817.2 355.2 822.2 351.8Z"/>
<path fill="#903d01" fill-rule="evenodd" d="M821.8 349.8 817.2 345.8 808.2 332.2 796.2 319.8 781.8 301.8 774.2 293.8 769.2 289.8 761.8 285.8 753.2 283.8 733.2 283.2 723.2 283.8 718.2 284.8 710.8 287.8 700.8 294.8 685.2 307.8 668.8 317.8 645.8 318.2 634.8 319.2 608.2 307.8 601.2 305.8 593.8 304.8 573.2 305.8 563.2 307.8 557.8 309.8 548.8 314.8 519.8 334.8 512.8 340.2 504.2 349.8 497.8 353.2 496.2 355.8 496.8 356.8 501.2 359.2 519.8 364.2 531.2 368.2 559.2 380.2 565.8 384.2 576.8 389.2 602.2 404.8 608.2 409.2 626.8 427.8 628.8 433.8 631.2 456.8 683.2 456.8 687.2 441.2 688.2 434.2 691.2 425.8 702.2 412.8 709.8 405.2 732.8 392.2 757.8 380.2 761.2 379.2 788.2 365.2 816.8 355.2 821.8 351.8Z"/>
<path fill="#924001" fill-rule="evenodd" d="M821.2 349.8 815.8 344.2 809.2 333.8 795.2 319.2 780.2 300.8 774.2 294.8 768.2 290.2 760.8 286.8 756.2 285.8 724.8 285.2 715.8 286.8 709.2 289.8 701.8 294.8 684.2 308.8 671.8 316.8 666.8 318.2 647.8 318.2 635.8 319.8 631.8 318.8 612.2 309.8 602.2 306.8 595.8 305.8 573.8 306.8 563.2 308.8 549.8 314.8 525.8 330.8 514.8 338.8 503.2 350.8 497.8 353.8 496.8 355.8 497.8 357.2 501.8 359.2 529.2 367.2 547.2 374.2 550.2 376.2 560.2 380.2 564.8 383.2 581.2 391.2 605.2 406.2 610.2 410.2 627.2 427.8 628.8 431.2 631.8 456.8 682.8 456.8 689.2 428.8 690.8 425.8 703.2 410.8 710.2 404.2 731.8 392.2 756.8 380.2 766.8 376.2 789.8 364.2 800.2 361.2 816.2 355.2 821.2 351.8Z"/>
<path fill="#944301" fill-rule="evenodd" d="M821.2 350.2 816.2 345.2 809.2 334.2 796.2 320.8 781.2 302.8 774.2 295.8 767.2 290.8 762.2 288.8 755.2 287.2 725.8 286.8 717.8 287.8 709.2 290.8 698.8 297.8 686.2 307.8 672.2 316.8 668.2 318.2 643.8 318.8 640.2 319.8 634.2 319.8 611.2 309.8 598.2 306.8 585.8 306.8 562.8 309.8 550.8 314.8 517.8 336.8 512.8 340.8 504.2 350.2 498.2 353.8 497.8 356.2 502.8 359.2 521.2 364.2 538.2 370.2 561.2 380.2 565.8 383.2 582.2 391.2 603.2 404.2 610.2 409.8 627.8 427.8 629.8 433.8 632.2 456.8 682.2 456.8 688.2 430.8 690.2 425.8 694.8 419.8 708.8 404.8 730.8 392.2 755.8 380.2 765.8 376.2 786.8 365.2 815.8 355.2 819.2 353.2 821.2 351.2Z"/>
<path fill="#964601" fill-rule="evenodd" d="M820.8 350.2 816.2 345.8 813.2 340.2 807.2 332.2 795.2 320.2 783.2 305.8 774.2 296.8 770.2 293.8 764.2 290.8 754.2 288.8 720.8 288.8 711.8 290.8 705.8 293.8 679.2 312.8 667.2 318.8 645.8 318.8 641.8 319.8 633.2 319.8 612.8 310.8 600.8 307.8 584.8 307.8 562.2 310.8 550.2 315.8 523.8 332.8 513.8 340.2 504.2 350.8 498.8 353.8 497.8 355.2 499.2 357.2 503.2 359.2 528.2 366.2 546.8 373.2 562.2 380.2 566.8 383.2 577.8 388.2 604.2 404.2 615.8 414.2 628.8 428.2 630.8 436.8 630.8 442.2 631.8 445.8 631.8 451.8 632.8 456.8 681.8 456.8 689.2 426.2 693.2 420.8 708.8 404.2 729.8 392.2 756.8 379.2 764.8 376.2 781.8 367.2 791.2 363.2 815.2 355.2 820.2 352.2Z"/>
<path fill="#984902" fill-rule="evenodd" d="M820.2 349.8 815.2 344.8 808.2 333.8 796.2 321.8 784.2 307.8 775.2 298.8 769.8 294.8 765.8 292.8 757.8 290.8 724.2 290.2 714.8 291.2 705.8 294.8 681.2 311.8 671.2 317.8 668.2 318.8 647.8 318.8 634.8 320.2 611.2 310.8 603.2 308.8 597.8 308.2 583.2 308.8 561.8 311.8 555.8 313.8 545.8 318.8 521.2 334.8 514.8 339.8 505.2 350.2 500.8 352.8 498.8 354.8 498.8 356.2 502.8 358.8 523.2 364.2 547.8 373.2 577.2 387.2 602.2 402.2 611.2 409.2 628.8 427.2 630.8 433.8 633.2 456.8 681.2 456.8 687.2 430.2 689.2 425.2 694.2 418.8 707.8 404.2 726.8 393.2 755.8 379.2 768.2 374.2 776.8 369.2 787.8 364.2 806.8 358.2 816.8 354.2 819.8 352.2Z"/>
<path fill="#9a4b02" fill-rule="evenodd" d="M819.8 349.8 815.2 345.2 811.8 338.8 805.2 330.8 795.2 321.2 787.2 311.8 775.2 299.8 769.2 295.8 760.2 292.8 754.2 292.2 717.8 292.2 712.2 293.2 703.8 296.8 680.2 312.8 669.2 318.8 633.8 320.2 616.2 312.8 601.8 309.2 581.8 309.8 565.8 311.8 557.8 313.8 544.8 319.8 518.8 336.8 510.8 343.8 505.2 350.8 500.8 353.2 499.2 354.8 499.8 356.8 504.8 359.2 520.8 363.2 535.8 368.2 562.2 379.2 578.2 387.2 607.2 405.2 613.2 410.2 628.8 426.2 630.8 430.8 633.8 456.8 680.8 456.8 688.2 425.8 695.2 416.8 708.2 403.2 716.2 398.2 723.2 395.2 725.8 393.2 743.8 384.2 767.2 374.2 784.8 365.2 816.2 354.2 819.2 352.2Z"/>
<path fill="#9c4e02" fill-rule="evenodd" d="M819.2 349.8 815.2 345.8 811.8 339.2 806.2 332.2 780.2 305.2 773.8 299.8 768.8 296.8 758.2 294.2 716.8 293.8 711.2 294.8 701.8 298.8 672.2 317.8 667.2 319.2 647.2 319.2 634.8 320.8 617.8 313.8 601.8 309.8 579.8 310.8 560.2 313.8 545.8 319.8 517.8 337.8 510.2 344.8 504.2 351.8 500.8 353.8 499.8 355.8 501.2 357.2 505.8 359.2 521.8 363.2 536.8 368.2 561.2 378.2 579.2 387.2 606.8 404.2 611.8 408.2 629.8 426.8 631.8 433.2 633.8 454.8 634.8 456.8 680.2 456.8 687.2 426.8 693.2 418.2 706.8 403.8 711.8 400.2 728.2 391.2 746.8 382.2 766.2 374.2 781.8 366.2 788.8 363.2 813.2 355.2 818.8 352.2Z"/>
<path fill="#9e5102" fill-rule="evenodd" d="M818.8 349.8 814.2 344.8 811.2 338.8 808.2 334.8 794.2 321.2 779.8 305.8 771.8 299.8 764.2 296.8 756.2 295.8 717.2 295.2 712.2 295.8 705.8 297.8 694.8 303.8 676.2 315.8 668.2 319.2 653.2 319.2 633.2 320.8 616.8 313.8 605.2 310.8 587.8 310.8 569.8 312.8 559.2 314.8 544.8 320.8 523.8 333.8 515.8 339.8 509.8 345.8 507.2 349.8 501.2 353.8 500.8 356.2 503.8 358.2 509.8 360.2 519.2 362.2 537.8 368.2 560.2 377.2 580.2 387.2 604.2 401.8 615.8 411.2 629.8 425.8 631.8 430.2 631.8 433.2 632.8 435.8 633.8 450.2 635.2 456.8 679.2 456.8 681.2 451.2 685.2 431.8 688.2 423.8 699.2 410.8 707.8 402.2 715.8 397.2 739.2 385.2 756.8 377.2 765.2 374.2 778.8 367.2 790.8 362.2 798.8 360.2 812.8 355.2 818.2 352.2Z"/>
<path fill="#a05403" fill-rule="evenodd" d="M818.2 349.8 814.2 345.2 812.2 340.8 808.2 335.2 779.8 306.8 773.2 301.8 766.2 298.8 760.2 297.8 714.8 296.8 708.8 297.8 703.2 299.8 673.2 317.8 667.2 319.8 645.8 319.8 641.8 320.8 632.2 320.8 618.8 314.8 604.2 311.2 584.8 311.8 558.2 315.8 543.8 321.8 522.8 334.8 514.8 340.8 508.8 348.2 501.2 354.8 501.2 355.8 502.8 357.2 507.2 359.2 526.8 364.2 547.2 371.2 552.8 374.2 561.2 377.2 579.8 386.2 607.2 403.2 612.2 407.2 630.8 426.2 632.8 432.8 634.8 453.8 635.8 456.8 678.8 456.8 680.2 453.2 684.2 433.8 687.2 424.2 692.2 417.8 706.8 402.2 712.8 398.2 733.8 387.2 755.8 377.2 764.2 374.2 777.8 367.2 787.2 363.2 812.2 355.2 816.2 353.2 818.2 351.2Z"/>
<path fill="#a25703" fill-rule="evenodd" d="M817.8 349.8 813.2 344.2 809.2 336.8 783.2 310.8 772.8 302.8 763.2 299.8 713.2 298.2 702.8 300.8 694.8 304.8 671.8 318.8 668.8 319.8 647.8 319.8 643.2 320.8 633.8 321.2 617.8 314.8 604.8 311.8 592.8 311.8 566.2 314.8 557.2 316.8 542.8 322.8 521.8 335.8 515.8 340.2 511.2 344.8 509.2 348.2 501.8 354.8 501.8 355.8 505.2 358.2 527.8 364.2 548.2 371.2 560.2 376.2 571.8 382.2 577.2 384.2 604.2 400.2 613.2 407.2 629.8 423.8 631.8 426.8 633.8 435.2 635.2 452.8 636.8 456.8 677.8 456.8 680.2 450.8 680.2 448.2 686.2 424.8 692.2 416.8 705.8 402.2 724.8 391.2 749.8 379.2 765.2 373.2 774.8 368.2 789.2 362.2 797.2 360.2 813.8 354.2 817.2 352.2Z"/>
<path fill="#a45b03" fill-rule="evenodd" d="M817.2 349.2 814.2 346.2 812.2 341.8 807.2 334.8 782.2 310.8 777.2 306.8 771.8 303.8 765.8 301.8 754.8 300.8 709.8 299.8 697.8 303.8 669.8 319.8 653.2 319.8 640.2 321.2 632.8 321.2 616.2 314.8 608.2 312.8 602.8 312.2 579.2 313.8 555.8 317.8 539.8 324.8 520.8 336.8 510.8 345.8 509.2 348.8 502.8 354.8 502.8 356.2 509.2 359.2 522.2 362.2 523.8 363.2 538.2 367.2 561.2 376.2 580.2 385.2 605.2 400.2 615.2 408.2 628.8 421.8 631.8 425.8 634.8 437.8 635.8 452.2 636.8 455.2 638.2 456.8 676.2 456.8 678.2 454.8 679.2 452.2 683.2 432.8 686.2 423.8 701.2 405.8 706.8 400.8 727.2 389.2 750.8 378.2 764.2 373.2 788.2 362.2 802.8 358.2 813.2 354.2 817.2 351.2Z"/>
<path fill="#a65e03" fill-rule="evenodd" d="M816.8 349.8 813.2 345.2 810.8 339.8 807.8 335.8 782.2 311.8 771.2 304.8 761.2 302.8 731.8 301.8 723.2 300.8 710.2 300.8 699.2 303.8 672.8 318.8 667.8 320.2 647.8 320.2 633.8 321.8 615.2 314.8 603.8 312.8 585.2 313.8 558.2 317.8 546.8 321.8 538.8 325.8 519.8 337.8 512.8 343.8 509.8 348.8 503.2 355.2 504.2 356.8 507.2 358.2 536.2 366.2 560.2 375.2 583.2 386.2 606.2 400.2 612.8 405.2 631.2 423.8 632.8 426.2 634.8 433.8 636.8 453.2 637.8 455.2 639.2 456.2 674.2 456.8 676.2 455.8 678.2 453.2 681.2 441.2 681.2 438.8 682.2 436.8 682.2 434.2 685.2 424.2 690.2 417.2 705.8 400.8 712.8 396.2 738.2 383.2 751.8 377.2 763.2 373.2 787.8 362.2 810.2 355.2 815.2 352.8 816.8 351.2Z"/>
<path fill="#a86104" fill-rule="evenodd" d="M816.2 349.2 813.2 345.8 812.2 342.8 808.2 336.8 798.2 326.8 781.2 311.8 772.8 306.8 765.2 304.8 711.2 301.8 702.8 303.2 696.2 305.8 673.2 318.8 669.2 320.2 644.2 320.8 640.2 321.8 632.2 321.8 623.2 317.8 608.8 313.8 591.2 313.8 566.8 316.8 556.8 318.8 547.8 321.8 535.8 327.8 518.8 338.8 512.2 344.8 509.8 349.2 504.8 353.8 504.2 355.8 508.2 358.2 537.2 366.2 563.8 376.2 586.2 387.2 608.8 401.2 613.8 405.2 632.8 424.8 634.8 430.2 636.8 444.8 636.8 449.8 638.8 455.2 674.2 455.8 677.2 453.8 683.2 427.8 685.2 422.8 690.2 416.2 704.8 400.8 713.2 395.2 745.8 379.2 766.8 371.2 767.8 370.2 786.8 362.2 801.2 358.2 811.8 354.2 816.2 351.2Z"/>
<path fill="#aa6404" fill-rule="evenodd" d="M815.8 349.8 813.2 346.2 810.2 339.8 802.2 330.8 781.2 312.8 773.2 308.2 768.2 306.8 760.2 305.8 712.2 302.8 703.8 303.8 695.2 306.8 677.2 316.8 667.8 320.8 645.8 320.8 634.8 322.2 628.8 320.8 625.2 318.8 616.2 315.8 602.8 313.8 570.8 316.8 555.2 319.8 538.2 326.8 521.8 336.8 511.8 345.8 508.8 351.2 504.8 355.2 506.8 357.2 535.2 365.2 565.2 376.2 582.2 384.2 607.2 399.2 614.8 405.2 631.8 422.2 633.8 425.2 635.8 431.8 637.8 451.8 639.8 454.8 673.8 455.2 675.8 454.2 677.2 451.8 681.2 435.2 681.2 432.8 684.2 423.2 698.2 406.2 707.8 397.8 725.2 388.2 746.8 378.2 761.8 372.2 763.2 372.2 785.8 362.2 797.2 359.2 811.2 354.2 814.8 352.2Z"/>
<path fill="#ab6704" fill-rule="evenodd" d="M815.2 349.2 809.2 338.8 801.8 330.8 782.8 314.8 776.2 310.8 765.8 307.8 755.8 306.8 748.8 306.8 721.2 304.2 705.8 304.2 694.2 307.8 676.8 316.8 674.2 318.8 669.2 320.8 647.8 320.8 643.8 321.8 632.8 322.2 618.2 316.8 609.2 314.8 593.2 314.8 557.2 319.8 545.2 323.8 535.2 328.8 520.8 337.8 513.8 343.8 510.8 349.2 506.8 353.2 505.8 355.2 506.2 356.2 510.2 358.2 542.8 367.2 564.2 375.2 579.8 382.2 608.2 399.2 615.8 405.2 633.8 423.8 636.8 433.8 638.8 452.2 640.8 454.2 671.8 454.8 674.2 454.2 676.2 452.2 682.2 426.2 684.2 421.8 698.2 405.2 705.8 398.2 723.8 388.2 745.2 378.2 757.8 373.2 759.2 373.2 787.8 361.2 808.2 355.2 813.2 352.8 815.2 350.8Z"/>
<path fill="#ad6a05" fill-rule="evenodd" d="M814.8 349.8 809.2 339.2 800.2 329.8 784.2 316.8 775.8 311.8 762.8 308.8 734.8 306.8 729.2 305.8 708.8 304.8 696.8 307.2 682.8 313.8 670.2 320.8 645.8 321.2 633.8 322.8 629.8 321.8 620.8 317.8 613.2 315.8 594.8 315.2 565.2 318.8 551.8 321.8 535.8 328.8 519.8 338.8 513.2 344.8 509.8 351.2 506.8 354.2 506.8 355.8 508.8 357.2 514.2 359.2 534.2 364.2 563.2 374.2 568.8 377.2 581.2 382.2 605.2 396.2 616.2 404.8 632.2 420.8 634.8 424.2 636.8 429.8 637.8 435.8 638.8 448.8 639.8 452.2 640.8 453.2 646.8 454.2 668.2 454.2 674.2 453.2 676.2 450.2 681.2 427.2 685.2 419.2 697.8 404.8 706.8 396.8 736.8 381.2 753.8 374.2 763.2 371.2 786.8 361.2 798.8 358.2 809.8 354.2 813.2 352.2Z"/>
<path fill="#af6d05" fill-rule="evenodd" d="M814.2 349.2 810.2 341.2 804.2 333.8 791.2 322.8 783.2 316.8 777.8 313.8 768.2 310.8 734.2 307.8 729.2 306.8 706.2 305.8 700.2 306.8 691.8 309.8 673.2 319.8 668.2 321.2 648.2 321.2 638.8 322.8 632.2 322.8 622.8 318.8 613.2 316.2 594.2 315.8 569.2 318.8 553.8 321.8 542.8 325.8 532.8 330.8 518.8 339.8 513.8 344.8 510.8 350.8 507.8 354.2 507.8 355.8 509.8 357.2 515.2 359.2 521.2 360.2 545.2 367.2 563.2 373.8 576.2 379.2 593.2 388.2 607.2 396.8 613.2 401.2 633.2 420.8 636.8 426.8 638.8 437.8 639.8 449.8 641.2 452.2 643.2 453.2 671.8 453.2 673.8 452.2 675.2 450.2 682.2 422.2 696.8 404.8 704.8 397.2 714.8 391.2 739.8 379.2 767.2 369.2 783.2 362.2 801.2 357.2 809.2 354.2 812.8 352.2Z"/>
<path fill="#b17005" fill-rule="evenodd" d="M813.2 348.2 808.2 338.8 802.8 332.8 789.2 321.8 781.8 316.8 775.2 313.8 766.8 311.8 716.8 306.8 703.8 306.8 692.8 309.8 680.2 315.8 673.8 319.8 666.2 321.8 644.8 321.8 640.8 322.8 631.2 322.8 621.8 318.8 614.2 316.8 595.8 316.2 572.8 318.8 551.8 322.8 535.2 329.8 519.2 339.8 513.2 345.8 510.8 351.8 508.8 353.8 508.8 355.8 513.2 358.2 543.2 366.2 560.8 372.2 577.8 379.2 591.2 386.2 613.2 400.2 634.2 420.8 637.8 427.8 639.8 439.8 639.8 444.8 640.8 449.8 642.2 451.8 671.8 452.2 674.2 450.2 675.2 448.2 680.2 425.2 682.2 420.8 695.8 404.8 704.8 396.2 713.2 391.2 735.8 380.2 750.8 374.2 763.2 370.2 785.2 361.2 800.2 357.2 808.2 354.2 813.2 351.2Z"/>
<path fill="#b27305" fill-rule="evenodd" d="M813.2 349.8 809.2 340.8 801.2 331.8 783.8 318.8 775.2 314.8 766.2 312.8 718.8 307.8 701.8 307.8 686.8 312.8 674.2 319.8 668.8 321.8 646.8 321.8 642.2 322.8 632.8 323.2 620.8 318.8 611.8 316.8 594.8 316.8 557.8 321.8 542.2 326.8 523.8 336.8 514.8 344.2 509.8 353.8 509.8 355.8 511.8 357.2 517.8 359.2 541.2 365.2 562.2 372.2 579.2 379.2 601.2 391.2 616.2 401.8 631.8 416.8 636.8 422.8 639.8 434.2 640.8 446.2 641.8 449.8 642.8 450.8 645.8 451.8 669.8 451.8 673.2 450.2 674.2 448.2 679.2 425.8 681.2 420.8 694.8 404.8 704.8 395.2 731.8 381.2 754.8 372.2 762.2 370.2 784.2 361.2 805.2 355.2 811.2 352.2Z"/>
<path fill="#b47606" fill-rule="evenodd" d="M812.2 347.8 807.2 338.2 800.8 331.8 791.8 324.8 778.2 316.8 765.8 313.8 741.8 310.8 726.2 309.8 721.2 308.8 703.8 308.2 692.8 310.8 669.8 321.8 649.2 321.8 639.2 323.2 631.8 323.2 615.2 317.8 602.2 316.8 573.2 319.8 555.8 322.8 540.8 327.8 522.8 337.8 514.8 344.8 510.8 353.2 510.8 355.8 515.8 358.2 549.2 367.2 563.8 372.2 583.2 380.2 606.2 393.2 618.2 402.2 634.8 418.8 637.2 422.2 639.8 429.8 641.8 446.8 643.8 450.2 670.2 450.8 672.2 449.8 673.8 447.2 678.2 426.8 680.8 420.2 695.2 402.8 704.2 394.8 727.8 382.2 744.8 375.2 766.2 368.2 783.2 361.2 798.8 357.2 809.2 353.2 812.2 350.8Z"/>
<path fill="#b57806" fill-rule="evenodd" d="M811.8 347.8 807.2 338.8 800.2 331.8 790.2 324.2 778.2 317.8 765.8 314.8 746.8 312.8 743.2 311.8 705.2 308.8 693.8 310.8 686.2 313.8 673.2 320.8 667.8 322.2 646.8 322.2 637.8 323.8 632.2 323.8 621.8 319.8 613.2 317.8 594.8 317.8 557.8 322.8 541.8 327.8 533.2 331.8 521.8 338.8 513.8 346.8 511.8 352.8 511.8 355.8 516.8 358.2 547.2 366.2 565.2 372.2 582.8 379.2 606.2 392.2 618.2 401.2 635.8 418.8 638.2 422.2 640.8 430.2 641.8 441.2 643.8 448.8 648.2 450.2 667.2 450.2 671.2 449.2 672.8 447.2 677.2 427.2 679.8 420.2 685.2 412.8 694.2 402.8 702.8 394.8 711.8 389.2 719.2 386.2 728.2 381.2 745.8 374.2 762.2 369.2 785.2 360.2 797.8 357.2 806.2 354.2 811.2 351.2Z"/>
<path fill="#b77b06" fill-rule="evenodd" d="M811.2 347.2 809.2 342.2 806.2 337.8 802.2 333.8 790.2 324.8 778.8 318.8 766.2 315.8 748.2 313.8 744.8 312.8 714.2 309.8 700.8 309.8 692.2 311.8 684.8 314.8 673.8 320.8 669.2 322.2 649.8 322.2 639.8 323.8 631.2 323.8 616.8 318.8 609.8 317.8 601.2 317.8 580.8 319.8 555.8 323.8 545.2 326.8 535.8 330.8 520.8 339.8 514.8 345.8 512.2 354.8 515.2 357.2 548.8 366.2 574.8 375.2 592.2 383.2 606.2 391.2 620.8 402.2 637.8 419.8 640.8 425.8 642.8 436.8 642.8 442.2 643.8 446.2 645.2 448.2 647.8 449.2 667.8 449.2 670.2 448.2 672.2 445.8 677.2 423.8 679.2 419.2 696.2 399.2 704.8 392.2 724.2 382.2 738.8 376.2 755.8 370.2 763.8 368.2 787.2 359.2 803.2 355.2 810.8 351.2Z"/>
<path fill="#b87e07" fill-rule="evenodd" d="M810.8 347.2 809.2 342.8 806.2 338.2 801.8 333.8 789.2 324.8 779.2 319.8 767.2 316.8 738.2 312.8 718.2 310.8 702.8 310.2 697.8 310.8 690.8 312.8 683.2 315.8 672.2 321.8 668.2 322.8 645.8 322.8 632.8 324.2 623.2 320.8 614.8 318.8 602.2 318.2 576.8 320.8 553.2 324.8 538.8 329.8 521.2 339.8 515.8 344.8 513.8 349.2 513.2 354.8 514.8 356.2 519.2 358.2 550.2 366.2 579.2 376.2 588.2 380.2 606.2 390.2 618.8 399.2 637.8 418.2 641.8 426.2 643.8 437.8 643.8 442.2 645.8 447.2 648.2 448.2 667.2 448.2 669.8 447.2 671.2 445.2 677.2 420.8 684.2 411.2 692.2 402.2 701.8 393.2 716.2 385.2 736.8 376.2 765.2 367.2 786.2 359.2 795.8 357.2 804.8 354.2 810.2 351.2Z"/>
<path fill="#ba8107" fill-rule="evenodd" d="M810.2 346.2 807.8 340.8 800.2 332.8 784.8 322.8 776.8 319.8 762.2 316.8 721.8 311.8 702.8 310.8 688.8 313.8 669.8 322.8 647.8 322.8 643.8 323.8 631.2 324.2 618.2 319.8 611.8 318.8 600.2 318.8 572.8 321.8 555.2 324.8 544.8 327.8 535.2 331.8 521.8 339.8 516.2 344.8 514.8 347.2 514.2 354.8 515.8 356.2 520.8 358.2 548.2 365.2 581.2 376.2 595.8 383.2 611.2 392.2 620.2 399.2 637.8 416.8 640.8 420.8 643.8 431.2 644.8 442.2 646.8 446.2 648.8 447.2 666.8 447.2 669.2 446.2 670.8 443.8 675.2 423.8 677.2 418.8 684.2 409.8 698.8 394.2 706.2 389.2 724.8 380.2 734.8 376.2 766.8 366.2 785.2 359.2 804.2 354.2 808.2 352.2 810.2 350.2Z"/>
<path fill="#bb8407" fill-rule="evenodd" d="M810.2 348.2 808.2 342.2 803.2 335.8 789.2 325.8 777.8 320.8 757.2 316.8 734.8 313.8 719.2 312.8 714.2 311.8 698.2 311.8 687.2 314.8 670.8 322.8 665.8 323.2 654.2 322.8 631.8 324.8 624.2 321.8 616.2 319.8 600.8 319.2 576.2 321.8 552.8 325.8 545.8 327.8 533.8 332.8 520.8 340.8 515.8 346.2 514.8 348.8 514.8 353.2 516.8 356.2 556.2 367.2 583.2 376.2 608.2 389.2 621.2 398.8 640.8 418.8 643.8 426.2 645.8 437.2 645.8 441.8 647.8 445.2 649.8 446.2 665.8 446.2 668.2 445.2 670.2 442.2 674.2 423.8 677.2 416.8 691.8 399.8 699.8 392.2 711.8 385.2 732.8 376.2 750.8 370.2 759.2 368.2 784.2 359.2 800.8 355.2 808.2 351.8 809.8 350.2Z"/>
<path fill="#bc8707" fill-rule="evenodd" d="M809.8 348.2 808.2 342.8 806.2 339.8 799.2 332.8 788.2 325.8 778.8 321.8 765.2 318.8 761.8 318.8 759.2 317.8 741.2 315.8 737.8 314.8 710.8 312.2 699.2 312.2 688.2 314.8 669.2 323.2 648.8 323.2 638.8 324.8 630.8 324.8 623.2 321.8 613.8 319.8 598.8 319.8 572.2 322.8 554.8 325.8 538.8 330.8 528.8 335.8 518.8 342.8 516.8 345.2 515.2 349.8 515.8 353.8 516.8 355.2 520.2 357.2 528.2 359.2 529.8 360.2 551.2 365.2 552.8 366.2 564.8 369.2 579.8 374.2 591.8 379.2 610.2 389.2 621.2 397.2 641.2 417.8 644.2 423.8 646.8 436.8 646.8 440.8 647.8 443.2 651.2 445.2 664.8 445.2 667.2 444.2 669.2 441.2 673.2 423.2 675.8 417.2 690.2 399.8 700.8 390.2 711.8 384.2 727.8 377.2 748.8 370.2 764.2 366.2 783.2 359.2 802.8 354.2 808.2 351.2Z"/>
<path fill="#be8a08" fill-rule="evenodd" d="M809.2 346.8 806.8 340.8 801.2 334.8 789.2 326.8 779.8 322.8 766.8 319.8 732.2 314.8 710.8 312.8 698.2 312.8 689.2 314.8 672.2 322.8 667.8 323.8 645.2 323.8 632.2 325.2 617.8 320.8 599.8 320.2 575.8 322.8 556.8 325.8 542.2 329.8 527.8 336.8 518.8 343.2 516.8 345.8 515.8 350.2 516.8 353.8 519.2 356.2 531.2 360.2 545.2 363.2 566.8 369.2 583.2 374.8 593.8 379.2 610.8 388.2 622.2 396.8 637.8 411.8 642.8 417.8 645.8 424.8 648.8 442.2 649.8 443.2 654.2 444.2 661.8 444.2 666.2 443.2 668.2 440.2 673.2 419.2 675.2 415.8 689.2 399.2 696.2 392.2 701.8 388.2 713.8 382.2 728.2 376.2 746.8 370.2 762.8 366.2 782.2 359.2 799.2 355.2 806.2 352.2 808.8 349.8Z"/>
<path fill="#bf8c08" fill-rule="evenodd" d="M808.8 346.2 805.2 339.2 800.8 334.8 788.2 326.8 780.8 323.8 762.8 319.8 735.8 315.8 730.8 315.8 716.2 313.8 699.8 313.2 694.8 313.8 684.8 316.8 669.8 323.8 647.2 323.8 643.2 324.8 630.8 325.2 624.2 322.8 615.8 320.8 597.8 320.8 571.2 323.8 553.8 326.8 538.2 331.8 524.8 338.8 520.8 341.8 517.2 345.8 516.8 351.8 519.8 355.8 525.8 358.2 565.2 368.2 566.8 369.2 584.2 374.2 593.8 378.2 611.2 387.2 625.2 397.8 642.8 415.8 646.8 423.8 649.8 440.8 651.2 442.2 653.2 442.8 663.2 442.8 666.2 441.2 667.2 439.2 671.2 421.8 675.2 413.8 687.2 399.8 695.8 391.2 699.8 388.2 711.2 382.2 725.8 376.2 751.8 368.2 761.2 366.2 784.2 358.2 801.2 354.2 806.2 351.8 808.2 349.8Z"/>
<path fill="#c08e09" fill-rule="evenodd" d="M808.2 345.2 805.2 339.8 798.2 333.2 789.2 327.8 778.8 323.8 765.2 320.8 739.2 316.8 708.2 313.8 698.2 313.8 685.8 316.8 670.8 323.8 650.8 323.8 631.8 325.8 619.2 321.8 612.2 320.8 603.8 320.8 560.8 325.8 541.8 330.8 528.8 336.8 523.8 339.8 518.8 344.2 516.8 349.2 518.2 353.2 520.2 355.2 524.2 357.2 532.2 359.2 533.8 360.2 567.2 368.2 568.8 369.2 586.2 374.2 598.2 379.2 614.2 387.8 623.2 394.2 644.8 416.2 647.8 422.8 650.8 439.2 653.2 441.2 663.2 441.2 666.2 438.2 670.2 420.2 673.2 414.2 687.2 397.8 693.8 391.2 700.8 386.2 708.8 382.2 729.2 374.2 766.2 364.2 786.8 357.2 800.2 354.2 804.8 352.2 807.8 349.8Z"/>
<path fill="#c0900a" fill-rule="evenodd" d="M807.8 345.2 805.2 340.2 799.8 334.8 790.2 328.8 780.2 324.8 767.2 321.8 742.2 317.8 714.8 314.8 699.8 314.2 689.8 315.8 669.2 324.2 648.2 324.2 638.2 325.8 630.2 325.8 625.8 323.8 617.8 321.8 604.2 321.2 569.8 324.8 552.8 327.8 535.2 333.8 525.8 338.8 518.8 344.8 517.8 346.8 517.8 350.8 520.8 354.8 528.2 358.2 553.8 364.2 582.8 372.2 594.8 377.2 596.2 377.2 614.2 386.2 625.2 394.2 643.8 412.8 648.2 419.8 652.2 438.2 654.2 439.8 660.2 440.2 663.2 439.2 665.2 436.8 669.2 418.8 671.2 414.8 686.2 396.8 696.8 387.2 705.8 382.2 729.8 373.2 761.2 365.2 785.8 357.2 799.8 354.2 804.2 352.2 807.2 349.8Z"/>
<path fill="#c1910b" fill-rule="evenodd" d="M807.2 344.2 805.2 340.8 799.2 334.8 789.2 328.8 778.2 324.8 738.2 317.8 707.2 314.8 697.8 314.8 687.8 316.8 679.8 319.8 672.2 323.8 667.2 324.8 644.8 324.8 640.8 325.8 631.8 326.2 624.8 323.8 614.8 321.8 601.2 321.8 559.8 326.8 546.8 329.8 529.8 336.8 524.8 339.8 519.2 344.8 518.2 346.8 518.2 350.2 521.2 354.2 526.8 357.2 585.2 372.2 594.8 376.2 596.2 376.2 615.2 385.2 626.2 393.2 642.8 409.2 649.8 419.2 651.8 430.8 653.8 437.2 655.2 438.2 661.2 438.2 663.2 436.8 664.2 434.8 667.8 418.8 672.2 410.8 690.8 390.2 699.2 384.2 705.2 381.2 723.8 374.2 745.2 368.2 763.2 364.2 784.2 357.2 800.2 353.8 806.8 349.8Z"/>
<path fill="#c2930c" fill-rule="evenodd" d="M807.2 345.8 804.2 339.8 797.2 333.8 788.2 328.8 779.8 325.8 760.8 321.8 734.2 317.8 714.2 315.8 698.8 315.2 688.8 316.8 669.2 324.8 647.2 324.8 637.8 326.2 630.8 326.2 619.2 322.8 601.8 322.2 561.8 326.8 544.8 330.8 528.8 337.8 522.8 341.8 519.8 344.8 518.8 346.8 518.8 350.2 521.2 353.2 528.2 357.2 587.8 372.2 608.2 380.2 619.2 386.2 628.8 393.2 647.8 412.8 651.8 420.2 654.8 435.2 655.8 436.2 659.2 436.8 662.2 434.8 666.2 418.2 670.2 410.8 682.2 396.8 690.8 388.2 696.8 384.2 704.8 380.2 724.2 373.2 726.2 373.2 727.8 372.2 746.8 367.2 761.8 364.2 786.8 356.2 789.2 356.2 800.8 353.2 806.2 349.8Z"/>
<path fill="#c2950d" fill-rule="evenodd" d="M806.8 345.8 805.2 341.8 798.2 334.8 789.2 329.8 777.8 325.8 738.2 318.8 706.8 315.8 696.8 315.8 683.8 318.8 670.8 324.8 650.2 324.8 636.2 326.8 630.8 326.8 617.2 322.8 599.2 322.8 558.8 327.8 540.2 332.8 529.2 337.8 523.2 341.8 520.2 344.8 519.2 346.8 519.2 349.2 521.8 352.8 529.8 357.2 535.8 359.2 551.2 362.2 587.2 371.2 596.2 374.2 617.2 383.2 631.2 393.2 646.8 408.8 652.8 417.8 655.8 432.2 657.8 434.2 659.2 434.2 661.2 431.8 664.2 418.8 666.8 412.8 675.2 401.8 687.8 388.8 693.8 384.2 703.8 379.2 724.8 372.2 763.8 363.2 785.8 356.2 800.2 353.2 805.2 350.2Z"/>
<path fill="#c3970e" fill-rule="evenodd" d="M806.2 344.8 803.2 339.8 798.2 335.2 788.2 329.8 779.2 326.8 760.2 322.8 734.2 318.8 714.2 316.8 697.8 316.2 687.8 317.8 669.2 325.2 647.8 325.2 638.2 326.8 629.8 326.8 620.8 323.8 605.8 322.8 574.2 325.8 555.2 328.8 541.2 332.8 529.8 337.8 523.8 341.8 520.8 344.8 519.8 346.8 519.8 349.2 522.2 352.2 530.8 357.2 589.8 371.2 601.8 375.2 610.8 379.2 612.2 379.2 621.8 384.2 631.8 391.2 646.8 405.8 653.8 415.2 656.8 426.2 658.8 428.8 660.2 426.8 663.2 415.2 667.2 408.8 673.2 401.2 686.8 387.2 696.2 381.2 705.8 377.2 721.8 372.2 741.8 367.2 757.8 364.2 784.2 356.2 799.2 353.2 804.8 350.2 806.2 348.2Z"/>
<path fill="#c4980f" fill-rule="evenodd" d="M805.8 344.8 803.2 340.2 798.2 335.8 791.8 331.8 781.2 327.8 768.2 324.8 738.2 319.8 707.2 316.8 695.8 316.8 685.8 318.8 677.8 321.8 672.2 324.8 667.2 325.8 653.8 325.2 631.2 327.2 618.8 323.8 605.8 323.2 586.2 324.8 562.8 327.8 548.8 330.8 534.8 335.8 524.2 341.8 520.8 345.8 520.2 348.2 523.2 352.2 535.2 358.2 589.2 370.2 617.8 380.2 628.2 386.2 641.2 397.2 652.8 409.8 657.8 418.2 659.2 418.8 662.2 412.2 671.8 399.8 682.8 388.2 691.2 382.2 702.2 377.2 722.2 371.2 757.8 363.2 760.2 363.2 786.8 355.2 798.2 353.2 804.2 350.2 805.8 347.8Z"/>
<path fill="#c49a10" fill-rule="evenodd" d="M805.2 344.2 803.2 340.8 796.2 334.8 785.8 329.8 775.2 326.8 734.8 319.8 714.8 317.8 695.8 317.2 686.8 318.8 669.8 325.8 646.8 325.8 632.2 327.8 616.2 323.8 602.2 323.8 559.2 328.8 546.8 331.8 531.2 337.8 524.8 341.8 521.8 344.8 520.8 348.2 521.8 350.2 523.8 351.8 536.8 358.2 588.2 369.2 602.2 373.2 621.2 380.2 633.2 387.2 651.8 404.8 655.8 410.2 657.2 411.2 659.2 411.2 663.2 407.2 671.2 396.8 680.8 387.2 687.8 382.2 695.8 378.2 722.8 370.2 758.2 363.2 780.2 357.2 781.8 356.2 797.2 353.2 802.2 351.2 805.2 348.2Z"/>
<path fill="#c59c11" fill-rule="evenodd" d="M805.2 345.8 803.2 341.2 797.2 335.8 789.8 331.8 781.2 328.8 739.2 320.8 708.2 317.8 693.8 317.8 681.8 320.8 670.8 325.8 650.2 325.8 636.2 327.8 630.2 327.8 620.8 324.8 602.2 324.2 561.2 328.8 547.8 331.8 537.8 335.2 528.2 339.8 524.2 342.8 521.8 345.8 521.8 348.8 525.8 352.2 535.2 357.2 595.2 370.2 612.2 375.2 622.8 379.2 638.2 388.2 647.2 396.2 656.8 406.2 658.8 406.8 661.2 405.2 668.8 395.8 679.8 385.2 692.2 378.2 703.8 374.2 723.8 369.2 755.8 363.2 784.2 355.2 796.2 353.2 802.2 350.8 804.2 348.8Z"/>
<path fill="#c69e12" fill-rule="evenodd" d="M804.2 343.8 799.2 337.8 794.8 334.8 788.8 331.8 775.2 327.8 736.2 320.8 716.2 318.8 693.8 318.2 685.8 319.8 669.2 326.2 648.2 326.2 638.8 327.8 628.8 327.8 627.2 326.8 618.2 324.8 599.8 324.8 563.2 328.8 552.8 330.8 534.8 336.8 524.8 342.8 522.8 345.2 522.2 348.2 525.2 351.2 536.8 357.2 558.8 362.2 586.2 367.2 619.2 376.2 629.2 380.2 636.8 384.2 647.2 392.2 655.8 400.8 658.8 401.8 661.2 400.2 670.2 390.2 678.8 383.2 685.8 379.2 693.2 376.2 715.8 370.2 758.2 362.2 774.2 358.2 782.8 355.2 795.2 353.2 800.8 351.2 804.2 348.2Z"/>
<path fill="#c7a016" fill-rule="evenodd" d="M804.2 345.2 802.2 341.2 794.2 334.8 784.8 330.8 777.2 328.8 746.8 322.8 732.8 320.8 710.2 318.8 692.2 318.8 683.8 320.8 672.2 325.8 667.8 326.8 655.8 326.2 630.2 328.2 622.2 325.8 614.8 324.8 606.2 324.8 581.8 326.8 559.8 329.8 547.2 332.8 535.8 336.8 526.8 341.8 523.8 344.8 522.8 347.2 524.8 350.2 538.8 357.2 598.2 369.2 623.8 376.2 639.8 383.2 647.2 388.2 654.8 394.8 657.2 396.2 659.2 396.2 667.8 388.2 677.8 381.2 691.8 375.2 716.2 369.2 734.2 366.2 736.8 365.2 739.8 365.2 742.2 364.2 745.2 364.2 747.8 363.2 750.8 363.2 753.2 362.2 756.2 362.2 772.8 358.2 785.2 354.2 793.8 353.2 801.8 350.2 803.2 348.8Z"/>
<path fill="#c8a21b" fill-rule="evenodd" d="M803.8 345.2 802.2 341.8 797.2 337.2 791.2 333.8 783.2 330.8 772.8 328.8 770.8 327.8 737.2 321.8 718.2 319.8 697.8 318.8 684.8 320.8 669.8 326.8 647.2 326.8 643.2 327.8 630.8 328.8 620.2 325.8 605.8 325.2 585.2 326.8 561.8 329.8 551.8 331.8 532.2 338.8 524.8 344.2 523.8 345.8 523.8 348.2 526.2 350.2 540.2 357.2 563.8 362.2 588.2 366.2 622.2 374.2 639.2 380.2 650.2 386.2 655.8 390.2 658.2 390.8 672.8 381.2 687.2 375.2 697.8 372.2 722.2 367.2 758.8 361.2 783.8 354.2 796.2 352.2 802.2 349.2Z"/>
<path fill="#caa420" fill-rule="evenodd" d="M803.2 344.8 801.2 341.2 794.2 335.8 787.8 332.8 773.2 328.8 734.2 321.8 698.8 319.2 685.8 320.8 671.2 326.8 650.8 326.8 636.8 328.8 629.2 328.8 617.2 325.8 602.2 325.8 563.8 329.8 549.8 332.8 533.2 338.8 525.8 343.8 524.8 345.2 524.8 348.2 536.2 354.8 542.2 357.2 577.8 364.2 586.8 365.2 620.2 372.2 643.2 379.2 655.2 385.2 659.8 385.2 674.8 377.8 692.8 372.2 718.2 367.2 721.2 367.2 723.8 366.2 756.2 361.2 777.2 356.2 782.2 354.2 795.2 352.2 800.2 350.2 802.8 347.8Z"/>
<path fill="#cba625" fill-rule="evenodd" d="M802.8 345.2 801.2 341.8 795.2 336.8 789.2 333.8 779.8 330.8 739.2 322.8 720.8 320.8 694.2 319.8 683.8 321.8 669.2 327.2 648.8 327.2 630.8 329.2 617.8 326.2 601.8 326.2 565.8 329.8 550.8 332.8 537.8 337.2 528.8 341.8 525.8 344.8 525.2 346.8 525.8 348.2 532.8 351.2 538.8 355.2 544.2 357.2 564.2 361.2 573.2 362.2 575.8 363.2 596.2 366.2 614.2 370.2 617.2 370.2 634.2 374.2 655.8 381.2 659.2 381.2 675.8 375.2 691.8 371.2 759.2 360.2 785.2 353.2 793.8 352.2 800.2 349.8 802.2 347.8Z"/>
<path fill="#cca82b" fill-rule="evenodd" d="M802.2 345.2 801.2 342.8 794.2 336.8 785.2 332.8 777.8 330.8 736.2 322.8 715.8 320.8 693.8 320.2 684.8 321.8 672.8 326.8 668.2 327.8 645.2 327.8 636.2 329.2 629.2 329.2 619.8 326.8 598.8 326.8 561.8 330.8 548.8 333.8 535.2 338.8 529.8 341.8 526.8 344.8 526.2 346.8 527.8 348.8 534.8 351.2 538.8 354.2 546.2 357.2 579.8 363.2 595.8 365.2 609.8 368.2 613.2 368.2 651.2 376.2 657.8 376.8 663.8 376.2 696.2 369.2 761.8 359.2 783.2 353.2 796.2 351.2 800.2 349.2Z"/>
<path fill="#cdaa30" fill-rule="evenodd" d="M801.2 343.8 797.2 339.2 789.2 334.8 771.2 329.8 733.2 322.8 709.8 320.8 691.8 320.8 682.8 322.8 670.2 327.8 647.8 327.8 635.2 329.8 629.8 329.8 623.2 327.8 615.8 326.8 605.2 326.8 563.8 330.8 550.2 333.8 536.2 338.8 528.8 343.2 527.2 346.2 530.2 349.2 536.8 351.2 542.2 355.2 558.8 359.2 562.2 359.2 577.8 362.2 595.2 364.2 598.2 365.2 646.8 372.2 671.2 372.2 759.8 359.2 772.8 356.2 781.8 353.2 795.2 351.2 797.8 350.2 801.2 347.2Z"/>
<path fill="#cfad35" fill-rule="evenodd" d="M800.8 344.2 799.2 341.8 794.2 337.8 788.2 334.8 773.8 330.8 756.2 327.8 744.8 324.8 730.2 322.8 710.2 321.2 691.2 321.2 683.8 322.8 675.2 325.8 674.2 326.8 667.8 328.2 654.8 327.8 641.2 328.8 637.8 329.8 627.8 329.8 621.2 327.8 604.8 327.2 583.2 328.8 559.8 331.8 551.8 333.8 535.2 339.8 529.2 343.8 528.8 347.2 531.2 348.8 539.2 351.2 541.8 353.8 546.8 356.2 562.8 359.2 642.8 369.2 672.8 369.8 691.2 368.2 694.8 367.2 707.2 366.2 710.8 365.2 714.8 365.2 718.2 364.2 722.2 364.2 757.2 359.2 774.8 355.2 784.2 352.2 787.8 352.2 796.8 350.2 800.2 347.8Z"/>
<path fill="#d0af3a" fill-rule="evenodd" d="M800.2 344.2 798.2 341.2 794.2 338.2 786.8 334.8 776.2 331.8 735.8 323.8 714.2 321.8 697.8 321.2 684.8 322.8 670.2 328.2 649.8 328.2 635.2 330.2 629.2 330.2 618.2 327.8 600.8 327.8 561.8 331.8 552.8 333.8 536.2 339.8 530.8 343.2 529.8 346.2 532.2 348.2 541.2 351.2 542.8 353.2 546.2 355.2 554.8 357.2 574.8 360.2 643.2 367.2 688.8 367.2 732.8 362.2 760.2 358.2 782.8 352.2 795.8 350.2 799.2 348.2 800.2 346.8Z"/>
<path fill="#d1b140" fill-rule="evenodd" d="M799.8 345.2 798.8 342.8 794.2 338.8 782.2 333.8 740.2 324.8 707.2 321.8 692.8 321.8 686.2 322.8 669.2 328.8 646.2 328.8 634.2 330.8 629.8 330.8 618.8 328.2 600.2 328.2 571.2 330.8 550.8 334.8 533.8 341.8 531.2 344.2 531.2 346.2 532.2 347.2 539.8 349.2 546.2 354.2 553.8 356.2 582.8 360.2 647.8 365.8 699.2 365.2 751.2 359.2 767.2 356.2 780.8 352.2 794.2 350.2 798.2 348.2Z"/>
<path fill="#d3b446" fill-rule="evenodd" d="M798.8 344.2 796.2 340.8 786.8 335.8 767.2 330.8 759.2 329.8 749.2 326.8 738.2 324.8 718.8 322.8 692.8 322.2 680.2 324.8 670.8 328.8 649.8 328.8 636.8 330.8 627.8 330.8 620.2 328.8 596.8 328.8 566.8 331.8 552.2 334.8 539.2 339.8 533.8 342.8 532.8 345.8 534.8 347.2 543.2 349.8 549.2 354.2 573.8 358.2 647.2 364.2 698.2 364.2 731.2 361.2 760.8 357.2 783.2 351.2 786.8 351.2 795.8 349.2 798.2 347.2Z"/>
<path fill="#d5b64d" fill-rule="evenodd" d="M798.2 345.8 797.2 342.8 795.2 340.8 790.2 337.8 782.2 334.8 757.2 329.8 742.2 325.8 713.2 322.8 690.2 322.8 681.2 324.8 669.2 329.2 648.2 329.2 634.2 331.2 628.8 331.2 616.8 328.8 603.8 328.8 577.2 330.8 562.2 332.8 553.8 334.8 536.8 341.8 534.2 344.8 535.2 346.2 542.8 348.2 548.8 352.2 559.2 355.2 586.2 358.2 607.2 359.2 612.8 360.2 646.8 362.8 705.2 362.8 734.8 360.2 758.2 357.2 771.8 354.2 781.2 351.2 790.8 350.2 796.2 348.2Z"/>
<path fill="#d6b954" fill-rule="evenodd" d="M797.2 346.2 797.2 344.2 794.2 340.8 788.8 337.8 780.2 334.8 751.8 328.8 750.2 327.8 740.2 325.8 723.2 323.8 705.2 322.8 694.8 322.8 686.8 323.8 668.2 329.8 645.2 329.8 633.8 331.8 629.2 331.8 616.8 329.2 603.2 329.2 571.8 331.8 554.8 334.8 540.2 340.8 536.8 343.2 536.8 345.2 538.2 346.2 543.2 347.2 554.2 352.2 569.2 355.2 628.8 360.2 636.2 360.2 642.2 361.2 677.2 361.8 715.8 361.2 755.2 357.2 765.8 355.2 783.8 350.2 792.8 349.2 795.2 348.2Z"/>
<path fill="#d8bc5b" fill-rule="evenodd" d="M796.2 346.2 796.2 343.8 793.2 340.8 789.8 338.8 778.2 334.8 757.8 330.8 748.8 327.8 738.2 325.8 707.2 323.2 688.8 323.8 680.2 325.8 670.2 329.8 648.2 329.8 636.2 331.8 627.2 331.8 618.8 329.8 598.8 329.8 574.8 331.8 556.2 334.8 542.2 340.8 538.8 343.8 540.8 345.8 550.2 348.2 557.8 351.2 576.8 354.8 645.8 360.2 693.8 360.8 718.8 360.2 751.2 357.2 767.8 354.2 781.2 350.2 790.8 349.2 793.8 348.2Z"/>
<path fill="#dabf61" fill-rule="evenodd" d="M795.2 345.8 794.8 343.2 790.2 339.8 776.2 334.8 760.2 331.8 742.2 326.8 713.2 323.8 691.2 323.8 681.2 325.8 674.2 328.8 668.2 330.2 647.2 330.2 634.2 332.2 628.2 332.2 618.8 330.2 598.2 330.2 578.2 331.8 562.8 333.8 554.2 335.8 544.8 340.2 541.8 342.8 541.8 344.2 545.8 346.2 575.8 353.2 647.8 359.2 721.8 359.2 728.8 358.2 736.2 358.2 760.8 355.2 778.8 350.2 792.2 348.2 794.2 347.2Z"/>
<path fill="#dcc268" fill-rule="evenodd" d="M794.2 345.2 792.2 341.8 784.2 337.8 774.2 334.8 758.2 331.8 745.8 327.8 723.8 324.8 704.2 323.8 686.8 324.8 679.2 326.8 672.2 329.8 666.2 330.8 651.2 330.2 633.8 332.8 628.2 332.8 620.2 330.8 594.8 330.8 572.8 332.8 559.8 334.8 552.8 336.8 545.8 340.8 544.2 342.8 544.8 344.2 549.8 346.2 576.2 351.8 650.2 358.2 724.2 358.2 740.2 357.2 762.8 354.2 780.8 349.2 789.8 348.2 793.2 346.8Z"/>
<path fill="#ddc56f" fill-rule="evenodd" d="M792.8 345.2 792.2 343.2 790.8 341.8 782.2 337.8 771.8 334.8 760.2 332.8 744.2 327.8 731.2 325.8 706.8 324.2 688.8 324.8 680.2 326.8 670.2 330.8 647.8 330.8 631.8 333.2 615.8 330.8 602.2 330.8 575.8 332.8 561.8 334.8 551.8 337.8 546.8 341.8 546.8 343.2 549.8 345.2 582.8 351.2 636.8 356.2 669.2 357.2 729.8 357.2 745.2 356.2 760.2 354.2 777.8 349.2 786.8 348.2 790.2 347.2Z"/>
<path fill="#dfc876" fill-rule="evenodd" d="M791.2 345.2 791.2 343.8 789.2 341.8 777.2 336.8 758.2 332.8 742.2 327.8 714.2 324.8 691.8 324.8 681.2 326.8 674.2 329.8 668.2 331.2 652.8 330.8 641.8 331.8 631.8 333.8 615.8 331.2 602.2 331.2 579.2 332.8 559.2 335.8 553.2 337.8 548.8 341.2 548.8 343.2 553.2 345.2 574.8 348.2 577.8 349.2 581.8 349.2 593.2 351.2 599.8 351.2 604.8 352.2 610.8 352.2 645.8 355.8 734.8 356.2 741.2 355.2 749.2 355.2 761.8 353.2 774.8 349.2 788.2 347.2Z"/>
<path fill="#e1cb7d" fill-rule="evenodd" d="M789.2 345.2 789.2 343.8 787.2 341.8 778.2 337.8 760.2 333.8 745.2 328.8 725.2 325.8 703.2 324.8 687.2 325.8 679.2 327.8 670.2 331.2 650.8 331.2 637.8 332.8 634.8 333.8 626.8 333.8 617.8 331.8 597.8 331.8 573.8 333.8 561.2 335.8 552.8 338.8 550.2 341.8 551.2 343.2 556.8 345.2 591.2 349.8 646.2 354.8 737.8 355.2 752.2 354.2 762.2 352.2 775.8 348.2 784.2 347.2Z"/>
<path fill="#e2cd84" fill-rule="evenodd" d="M787.2 344.2 785.2 341.8 781.2 339.8 772.2 336.8 758.2 333.8 744.2 328.8 732.2 326.8 707.2 325.2 689.2 325.8 680.2 327.8 670.2 331.8 647.8 331.8 633.8 334.2 627.2 334.2 617.2 332.2 597.8 332.2 577.8 333.8 559.2 336.8 554.2 338.8 552.2 340.8 552.8 342.8 555.8 344.2 561.2 345.2 646.8 353.8 749.2 353.8 758.8 352.2 771.2 348.2 782.2 346.8Z"/>
<path fill="#e4d08b" fill-rule="evenodd" d="M784.2 344.2 784.2 343.2 782.8 341.8 776.2 338.8 759.8 334.8 746.8 329.8 729.8 326.8 716.2 325.8 692.8 325.8 681.8 327.8 668.8 332.2 647.8 332.2 633.8 334.8 626.2 334.8 618.2 332.8 594.8 332.8 581.8 333.8 561.8 336.8 555.8 338.8 553.8 340.8 554.2 342.2 555.8 343.2 566.8 345.2 627.8 350.2 647.2 352.8 751.2 352.8 768.8 347.8 779.8 346.2 783.2 345.2Z"/>
<path fill="#e6d392" fill-rule="evenodd" d="M781.2 343.2 778.2 340.8 773.2 338.8 760.8 335.8 745.2 329.8 726.8 326.8 703.2 325.8 687.8 326.8 679.8 328.8 668.8 332.8 645.8 332.8 633.2 335.2 626.8 335.2 617.2 333.2 595.2 333.2 576.8 334.8 563.8 336.8 557.8 338.8 555.8 340.8 557.8 342.8 564.2 344.2 607.2 347.2 611.8 348.2 619.2 348.2 641.8 351.2 689.2 352.2 751.2 351.8 765.2 347.2 778.8 345.2Z"/>
<path fill="#e8d699" fill-rule="evenodd" d="M777.2 343.2 775.8 341.2 772.8 339.8 758.8 335.8 750.2 331.8 743.8 329.8 733.2 327.8 710.2 326.2 689.8 326.8 680.8 328.8 670.8 332.8 649.2 332.8 629.8 336.2 617.8 333.8 593.2 333.8 580.8 334.8 566.8 336.8 559.8 338.8 558.2 340.2 558.8 341.8 562.8 343.2 570.8 344.2 593.8 345.2 614.2 347.2 623.2 347.2 647.8 350.8 749.2 350.8 764.2 346.2 772.8 345.2 776.2 344.2Z"/>
<path fill="#e9d9a1" fill-rule="evenodd" d="M772.8 342.8 771.2 340.8 759.2 336.8 746.2 330.8 731.2 327.8 719.2 326.8 693.2 326.8 682.2 328.8 670.2 333.2 649.8 333.2 639.2 334.8 631.8 336.8 626.8 336.8 616.2 334.2 586.2 334.8 570.2 336.8 560.8 339.8 560.8 341.2 568.2 343.2 627.8 346.2 648.2 349.8 723.2 350.2 749.8 349.2 762.2 345.2 770.2 344.2Z"/>
<path fill="#ebdca8" fill-rule="evenodd" d="M767.8 342.2 766.2 340.2 759.2 337.8 750.2 332.8 744.8 330.8 728.8 327.8 708.2 326.8 688.2 327.8 679.8 329.8 670.2 333.8 648.2 333.8 637.2 335.8 630.8 337.8 626.8 337.8 621.8 335.8 616.2 334.8 593.8 334.8 568.8 337.8 563.8 339.8 563.8 340.8 565.8 341.8 576.2 343.2 627.8 344.8 648.8 348.8 735.2 348.8 750.8 347.2 755.8 345.2 766.2 343.2Z"/>
<path fill="#eddfaf" fill-rule="evenodd" d="M762.2 341.8 761.2 339.8 746.8 331.8 734.2 328.8 715.2 327.2 690.8 327.8 681.2 329.8 669.8 334.2 649.2 334.2 639.8 335.8 628.2 339.2 617.8 335.8 596.8 335.2 578.8 336.8 571.2 338.2 567.8 339.8 569.2 341.2 574.8 342.2 589.8 343.2 627.8 342.8 639.8 346.2 649.2 347.8 733.2 347.8 742.8 346.2 747.8 346.2 759.2 343.2Z"/>
<path fill="#efe2b6" fill-rule="evenodd" d="M622.2 339.2 620.8 337.8 615.2 336.2 598.2 335.8 578.2 337.8 574.2 338.8 572.8 340.2 575.8 341.2 585.8 342.2 616.2 342.2 620.8 341.2 622.2 340.2ZM632.2 340.2 633.2 342.2 637.2 344.2 650.2 346.8 685.2 345.8 699.2 347.2 722.2 347.2 738.2 346.2 750.8 344.2 755.2 342.8 757.2 341.2 757.2 339.8 754.2 336.8 745.2 331.8 732.2 328.8 722.2 327.8 694.2 327.8 679.2 330.8 670.2 334.8 648.8 334.8 636.2 337.8Z"/>
<path fill="#f0e4be" fill-rule="evenodd" d="M579.2 339.8 586.8 341.2 612.2 341.2 616.8 340.2 617.8 338.8 611.8 336.8 594.8 336.8 585.2 337.8ZM754.2 338.8 751.8 335.8 744.2 331.8 736.2 329.8 716.2 327.8 693.8 328.2 684.8 329.8 677.8 331.8 668.2 335.8 646.8 335.8 639.2 337.8 636.2 339.8 636.2 341.2 642.2 344.2 651.2 345.8 687.8 344.8 699.2 346.2 724.2 346.2 745.8 344.2 753.2 341.8 754.2 340.8Z"/>
<path fill="#f2e7c5" fill-rule="evenodd" d="M590.2 339.2 595.8 340.2 608.2 339.8 610.2 338.8 605.2 337.8 599.8 337.8ZM752.2 337.8 749.2 334.8 745.8 332.8 734.8 329.8 719.8 328.2 700.2 328.2 686.2 329.8 676.2 332.8 669.2 336.2 652.8 335.8 645.8 336.8 640.8 338.8 639.8 340.8 642.8 342.8 647.8 344.2 687.8 343.8 698.2 345.2 730.2 345.2 740.2 344.2 749.2 342.2 752.2 340.2Z"/>
<path fill="#f4eacc" fill-rule="evenodd" d="M643.8 340.8 649.8 343.2 664.2 343.2 669.8 342.2 677.2 342.2 704.2 344.8 734.2 344.2 746.2 342.2 750.2 340.2 750.8 337.8 748.2 334.8 744.2 332.8 733.2 329.8 724.8 328.8 695.2 328.8 680.8 331.8 669.2 337.2 650.8 336.8 644.8 338.8Z"/>
<path fill="#f5edd3" fill-rule="evenodd" d="M749.2 337.2 746.2 334.2 736.8 330.8 720.8 328.8 695.2 329.2 685.8 330.8 676.8 333.8 670.2 338.8 650.8 338.2 649.2 338.8 648.2 340.2 652.8 341.8 672.2 340.2 674.8 341.2 690.2 342.2 699.8 343.8 722.2 344.2 742.8 342.2 748.2 340.2Z"/>
<path fill="#f7efd9" fill-rule="evenodd" d="M673.8 337.8 676.2 340.2 701.2 343.2 730.2 343.2 743.2 341.2 746.8 339.8 747.8 338.2 747.2 336.2 745.8 334.8 738.8 331.8 729.2 329.8 722.8 329.2 693.2 329.8 678.2 333.8 675.8 335.2Z"/>
<path fill="#f8f1dd" fill-rule="evenodd" d="M746.2 336.8 742.8 333.8 733.8 330.8 726.8 329.8 711.2 329.2 689.8 330.8 678.2 334.8 676.8 335.8 676.2 338.2 682.2 340.2 686.2 340.2 697.2 342.2 728.2 342.8 742.2 340.8 746.2 338.2Z"/>
<path fill="#f9f3e2" fill-rule="evenodd" d="M678.2 336.8 679.2 338.2 682.2 339.2 705.2 342.2 729.2 342.2 741.2 340.2 744.8 337.8 744.2 335.8 739.2 332.8 732.2 330.8 723.2 329.8 706.2 329.8 692.8 330.8 684.8 332.8 680.2 334.8Z"/>
<path fill="#faf5e6" fill-rule="evenodd" d="M681.2 336.2 683.2 338.2 691.8 340.2 708.2 341.8 733.2 341.2 741.2 339.2 743.2 337.2 742.2 335.2 735.2 331.8 717.8 329.8 692.8 331.2 686.8 332.8Z"/>
<path fill="#fbf7eb" fill-rule="evenodd" d="M684.2 335.8 684.8 337.2 690.8 339.2 707.8 341.2 728.8 341.2 735.8 340.2 741.2 337.8 741.2 335.8 736.8 332.8 727.8 330.8 709.8 330.2 692.8 331.8 688.8 332.8Z"/>
<path fill="#fcf8ef" fill-rule="evenodd" d="M686.8 335.2 687.8 337.2 694.2 339.2 709.2 340.8 732.8 340.2 736.8 339.2 739.8 337.2 739.8 335.8 735.8 332.8 724.8 330.8 707.8 330.8 703.8 331.8 696.2 331.8 691.2 332.8Z"/>
<path fill="#fdfaf4" fill-rule="evenodd" d="M689.2 335.2 689.8 336.8 693.8 338.2 708.8 340.2 728.8 340.2 734.2 339.2 738.2 337.2 738.2 335.2 734.2 332.8 720.8 330.8 710.8 330.8 702.8 332.2 694.2 332.8 690.8 333.8Z"/>
<path fill="#fefcf8" fill-rule="evenodd" d="M691.8 335.2 691.8 336.2 697.8 338.2 715.8 340.2 731.8 339.2 735.2 338.2 737.2 336.8 737.2 335.2 733.2 332.8 722.2 331.2 706.2 331.8 703.8 332.8 693.8 333.8Z"/>
<path fill="#fffefd" fill-rule="evenodd" d="M694.8 335.2 695.2 336.2 698.2 337.2 716.2 339.8 731.2 338.8 736.2 336.2 735.8 334.8 733.2 333.2 724.2 331.8 709.2 331.8 701.8 333.8 698.2 333.8Z"/>
</g></g><rect x="875.6" y="32.6" width="21.8" height="419.4" fill="url(#cbar)" stroke="#6a6a6a" stroke-width="1.3"/>
<g font-size="35" fill="#000" stroke="#000" stroke-width="0.25">
  <text transform="translate(74.2,27.6) scale(1,1.05)">A</text>
  <text transform="translate(150,27.9) scale(1,1.05)">B</text>
  <text transform="translate(236.5,28.1) scale(1,1.05)">C</text>
  <text transform="translate(328.4,28.2) scale(1,1.05)">D</text>
</g>
<g font-size="36.5" fill="#000" stroke="#000" stroke-width="0.25">
  <text transform="translate(-1.6,230.2) scale(1,1.03)">2</text>
  <text transform="translate(-1.5,365.4) scale(1,1.03)">3</text>
</g>
<g font-size="35.5" fill="#000" stroke="#000" stroke-width="0.25">
  <text transform="translate(324.2,413.3) scale(1,1.04)">20</text>
  <text transform="translate(373.9,413.3) scale(1,1.04)">μm</text>
  <text transform="translate(904.6,52.7) scale(1,1.04)">364</text>
  <text transform="translate(973.6,52.7) scale(1,1.04)">nm</text>
  <text transform="translate(904.5,455.6) scale(1,1.04)">0</text>
  <text transform="translate(934.8,455.6) scale(1,1.04)">nm</text>
</g>
<g font-size="35.5" fill="#fff" stroke="#fff" stroke-width="0.3">
  <text transform="translate(780.2,415.4) scale(1,1.04)">2</text>
  <text transform="translate(811.5,415.4) scale(1,1.04)">μm</text>
</g>
<rect x="329" y="426" width="87" height="4.5" fill="#000"/>
<rect x="791" y="432" width="64" height="4.2" fill="#fff"/>
<text x="27.8" y="69" font-size="34" fill="#000" stroke="#000" stroke-width="0.25">(a)</text>
<text x="452.9" y="65.6" font-size="35" fill="#fff" stroke="#fff" stroke-width="0.5">(b)</text>
<path d="M12.4,68.2 L12.4,93.9 L8.9,93.9 L8.9,73.6 C7.1,75.4 4.3,77.2 1.2,78.5 L1.2,75.2 C5.1,73.5 7.7,71 9.8,68.2 Z" fill="#000"/>
</svg>
</body></html>
